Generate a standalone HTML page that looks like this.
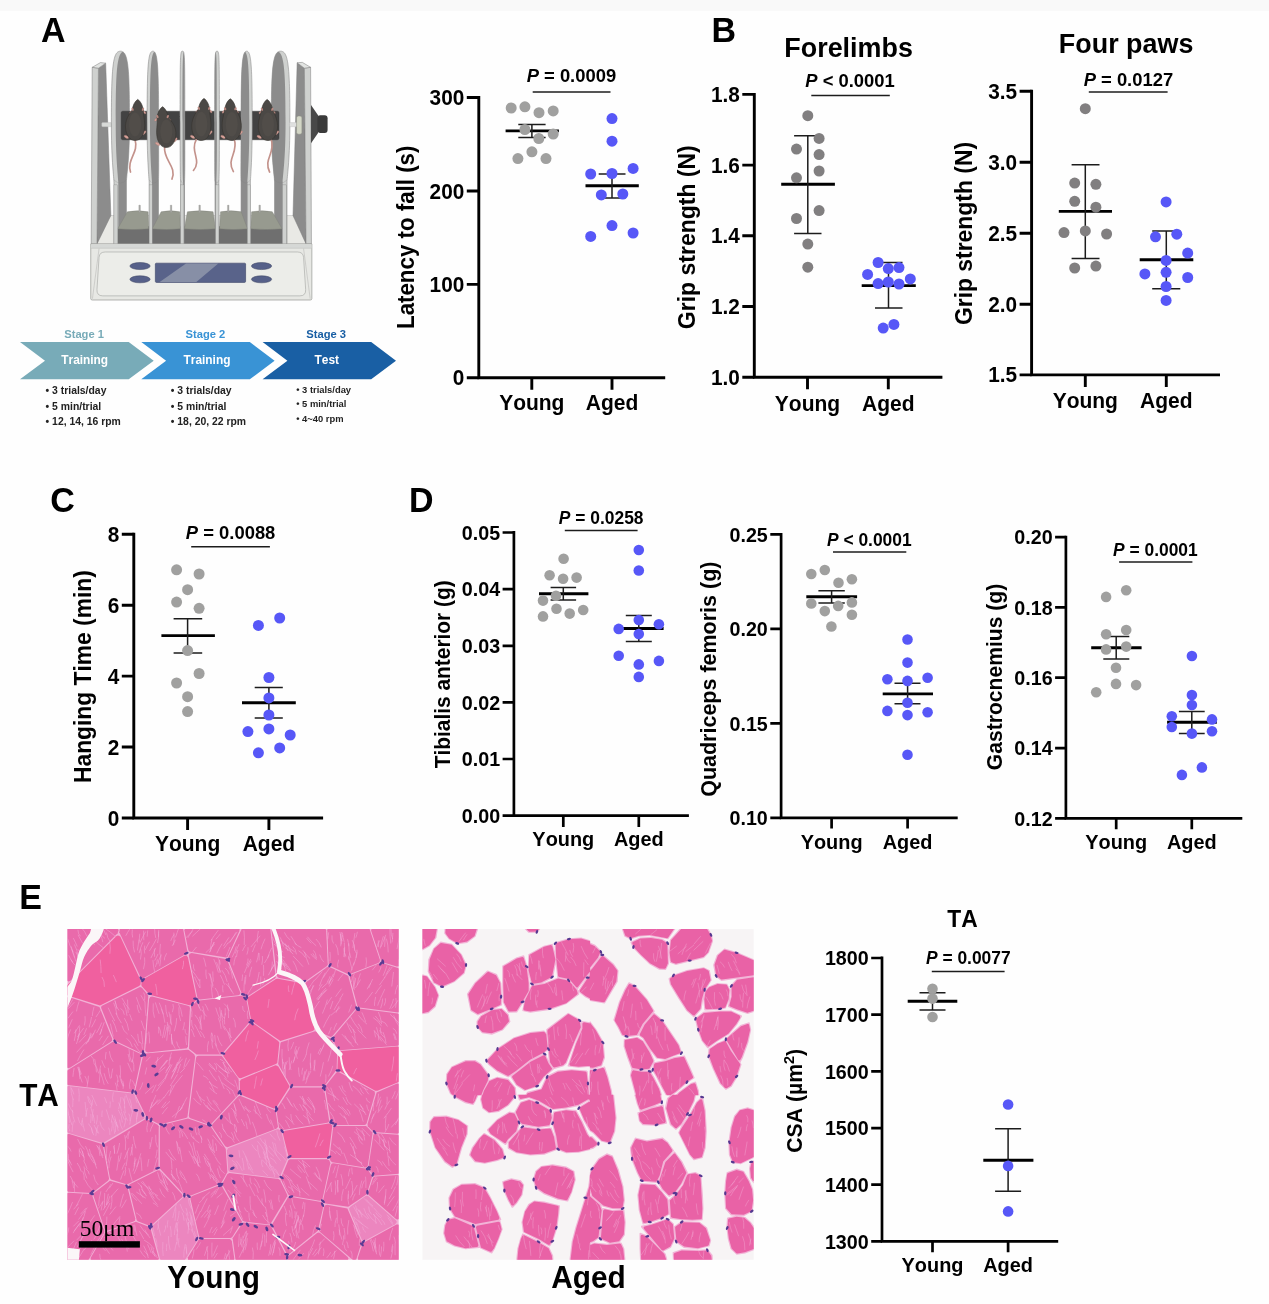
<!DOCTYPE html>
<html lang="en"><head><meta charset="utf-8"><title>Figure</title>
<style>html,body{margin:0;padding:0;background:#fefefe}body{width:1269px;height:1304px;overflow:hidden}svg{display:block}</style>
</head><body>
<svg width="1269" height="1304" viewBox="0 0 1269 1304" font-family="Liberation Sans, sans-serif" font-weight="700" fill="#000" style="font-kerning:none">
<rect width="1269" height="1304" fill="#fefefe"/><rect width="1269" height="11" fill="#f9f9f9"/>
<text transform="translate(41.0 41.9) scale(1 1.04)" font-size="34">A</text><text transform="translate(711.5 41.9) scale(1 1.04)" font-size="34">B</text><text transform="translate(50.3 512.3) scale(1 1.04)" font-size="34">C</text><text transform="translate(409.0 512.0) scale(1 1.04)" font-size="34">D</text><text transform="translate(19.3 908.5) scale(1 1.04)" font-size="34">E</text>
<g transform="translate(80 40) scale(0.20701)">
<path d="M149 848H1029L1116 985H54Z" fill="#e9e9e5" stroke="#a9aaa8" stroke-width="2"/>
<path d="M89 136L124 112L149 848L82 985Z" fill="#8c8c8c" stroke="#7e7e7e" stroke-width="2.5" stroke-linejoin="round"/>
<path d="M59 132L89 136L82 985H54Z" fill="#cfd1cf" stroke="#7e7e7e" stroke-width="2.5" stroke-linejoin="round"/>
<path d="M59 132L99 109L124 112L89 136Z" fill="#e2e4e2" stroke="#7e7e7e" stroke-width="2.5" stroke-linejoin="round"/>
<path d="M1084 136L1049 110L1029 848L1092 985Z" fill="#8c8c8c" stroke="#7e7e7e" stroke-width="2.5" stroke-linejoin="round"/>
<path d="M1114 132L1084 136L1092 985H1118Z" fill="#cfd1cf" stroke="#7e7e7e" stroke-width="2.5" stroke-linejoin="round"/>
<path d="M1114 132L1074 108L1049 110L1084 136Z" fill="#e2e4e2" stroke="#7e7e7e" stroke-width="2.5" stroke-linejoin="round"/>
<path d="M1116 314L1150 364V449L1116 499Z" fill="#484848"/>
<rect x="1147" y="364" width="49" height="85" rx="14" fill="#3a3a3a"/>
<rect x="105" y="399" width="55" height="20" rx="4" fill="#d9dbd9" stroke="#b5b5b5" stroke-width="1.5"/>
<rect x="170" y="900" width="820" height="86" fill="#6f6f6f"/>
<clipPath id="dc195"><path d="M151.5 399C151.5 116 160.3 54 195.5 54C230.7 54 239.5 116 239.5 399C239.5 572 226.0 646 224.0 686V985H164.0V686C162.0 646 151.5 572 151.5 399Z"/></clipPath><path d="M151.5 399C151.5 116 160.3 54 195.5 54C230.7 54 239.5 116 239.5 399C239.5 572 226.0 646 224.0 686V985H164.0V686C162.0 646 151.5 572 151.5 399Z" fill="#cfd1cf" stroke="#7e7e7e" stroke-width="2.5" stroke-linejoin="round"/><g clip-path="url(#dc195)"><path d="M172.5 399C172.5 116 181.3 54 216.5 54C251.7 54 260.5 116 260.5 399C260.5 572 247.0 646 245.0 686V985H185.0V686C183.0 646 172.5 572 172.5 399Z" fill="#8c8c8c"/></g><path d="M164.0 676Q194.0 706 224.0 676" fill="none" stroke="#7e7e7e" stroke-width="2" opacity=".6"/>
<clipPath id="dc969"><path d="M924.0 399C924.0 116 933.0 54 969.0 54C1005.0 54 1014.0 116 1014.0 399C1014.0 572 1002.0 646 1000.0 686V985H940.0V686C938.0 646 924.0 572 924.0 399Z"/></clipPath><path d="M924.0 399C924.0 116 933.0 54 969.0 54C1005.0 54 1014.0 116 1014.0 399C1014.0 572 1002.0 646 1000.0 686V985H940.0V686C938.0 646 924.0 572 924.0 399Z" fill="#cfd1cf" stroke="#7e7e7e" stroke-width="2.5" stroke-linejoin="round"/><g clip-path="url(#dc969)"><path d="M903.0 399C903.0 116 912.0 54 948.0 54C984.0 54 993.0 116 993.0 399C993.0 572 981.0 646 979.0 686V985H919.0V686C917.0 646 903.0 572 903.0 399Z" fill="#8c8c8c"/></g><path d="M940.0 676Q970.0 706 1000.0 676" fill="none" stroke="#7e7e7e" stroke-width="2" opacity=".6"/>
<rect x="199" y="344" width="762" height="138" rx="8" fill="#424242" stroke="#2e2e2e" stroke-width="2"/>
<clipPath id="dc352"><path d="M324.0 399C324.0 116 329.6 54 352.0 54C374.4 54 380.0 116 380.0 399C380.0 572 381.0 646 379.0 686V985H334.0V686C332.0 646 324.0 572 324.0 399Z"/></clipPath><path d="M324.0 399C324.0 116 329.6 54 352.0 54C374.4 54 380.0 116 380.0 399C380.0 572 381.0 646 379.0 686V985H334.0V686C332.0 646 324.0 572 324.0 399Z" fill="#cfd1cf" stroke="#7e7e7e" stroke-width="2.5" stroke-linejoin="round"/><g clip-path="url(#dc352)"><path d="M338.0 399C338.0 116 343.6 54 366.0 54C388.4 54 394.0 116 394.0 399C394.0 572 395.0 646 393.0 686V985H348.0V686C346.0 646 338.0 572 338.0 399Z" fill="#8c8c8c"/></g><path d="M334.0 676Q356.5 706 379.0 676" fill="none" stroke="#7e7e7e" stroke-width="2" opacity=".6"/>
<clipPath id="dc495"><path d="M483.5 399C483.5 61 484.1 54 495.0 54C505.9 54 506.5 61 506.5 399C506.5 572 507.0 646 505.0 686V985H486.0V686C484.0 646 483.5 572 483.5 399Z"/></clipPath><path d="M483.5 399C483.5 61 484.1 54 495.0 54C505.9 54 506.5 61 506.5 399C506.5 572 507.0 646 505.0 686V985H486.0V686C484.0 646 483.5 572 483.5 399Z" fill="#cfd1cf" stroke="#7e7e7e" stroke-width="2.5" stroke-linejoin="round"/><g clip-path="url(#dc495)"><path d="M495.5 399C495.5 61 496.1 54 507.0 54C517.9 54 518.5 61 518.5 399C518.5 572 519.0 646 517.0 686V985H498.0V686C496.0 646 495.5 572 495.5 399Z" fill="#8c8c8c"/></g><path d="M486.0 676Q495.5 706 505.0 676" fill="none" stroke="#7e7e7e" stroke-width="2" opacity=".6"/>
<clipPath id="dc662"><path d="M650.5 399C650.5 61 651.1 54 662.0 54C672.9 54 673.5 61 673.5 399C673.5 572 673.0 646 671.0 686V985H652.0V686C650.0 646 650.5 572 650.5 399Z"/></clipPath><path d="M650.5 399C650.5 61 651.1 54 662.0 54C672.9 54 673.5 61 673.5 399C673.5 572 673.0 646 671.0 686V985H652.0V686C650.0 646 650.5 572 650.5 399Z" fill="#cfd1cf" stroke="#7e7e7e" stroke-width="2.5" stroke-linejoin="round"/><g clip-path="url(#dc662)"><path d="M638.5 399C638.5 61 639.1 54 650.0 54C660.9 54 661.5 61 661.5 399C661.5 572 661.0 646 659.0 686V985H640.0V686C638.0 646 638.5 572 638.5 399Z" fill="#8c8c8c"/></g><path d="M652.0 676Q661.5 706 671.0 676" fill="none" stroke="#7e7e7e" stroke-width="2" opacity=".6"/>
<clipPath id="dc805"><path d="M778.0 399C778.0 116 783.4 54 805.0 54C826.6 54 832.0 116 832.0 399C832.0 572 825.0 646 823.0 686V985H778.0V686C776.0 646 778.0 572 778.0 399Z"/></clipPath><path d="M778.0 399C778.0 116 783.4 54 805.0 54C826.6 54 832.0 116 832.0 399C832.0 572 825.0 646 823.0 686V985H778.0V686C776.0 646 778.0 572 778.0 399Z" fill="#cfd1cf" stroke="#7e7e7e" stroke-width="2.5" stroke-linejoin="round"/><g clip-path="url(#dc805)"><path d="M764.0 399C764.0 116 769.4 54 791.0 54C812.6 54 818.0 116 818.0 399C818.0 572 811.0 646 809.0 686V985H764.0V686C762.0 646 764.0 572 764.0 399Z" fill="#8c8c8c"/></g><path d="M778.0 676Q800.5 706 823.0 676" fill="none" stroke="#7e7e7e" stroke-width="2" opacity=".6"/>
<path d="M182 912H332V986H182Z" fill="#6f6f6f"/>
<path d="M229 830Q279.0 820 329 830L332 912Q257.0 920 182 912Z" fill="#979a8f" stroke="#7d8078" stroke-width="2"/>
<path d="M349 912H485V986H349Z" fill="#6f6f6f"/>
<path d="M392 830Q437.0 820 482 830L485 912Q417.0 920 349 912Z" fill="#979a8f" stroke="#7d8078" stroke-width="2"/>
<path d="M504 912H654V986H504Z" fill="#6f6f6f"/>
<path d="M519 830Q581.0 820 643 830L654 912Q579.0 920 504 912Z" fill="#979a8f" stroke="#7d8078" stroke-width="2"/>
<path d="M674 912H809V986H674Z" fill="#6f6f6f"/>
<path d="M679 830Q729.0 820 779 830L809 912Q741.5 920 674 912Z" fill="#979a8f" stroke="#7d8078" stroke-width="2"/>
<path d="M824 912H976V986H824Z" fill="#6f6f6f"/>
<path d="M829 830Q879.0 820 929 830L976 912Q900.0 920 824 912Z" fill="#979a8f" stroke="#7d8078" stroke-width="2"/>
<rect x="284" y="797" width="8" height="36" rx="3" fill="#a9a9a7" stroke="#8a8a88" stroke-width="1"/>
<rect x="436" y="797" width="8" height="36" rx="3" fill="#a9a9a7" stroke="#8a8a88" stroke-width="1"/>
<rect x="574" y="797" width="8" height="36" rx="3" fill="#a9a9a7" stroke="#8a8a88" stroke-width="1"/>
<rect x="712" y="797" width="8" height="36" rx="3" fill="#a9a9a7" stroke="#8a8a88" stroke-width="1"/>
<rect x="864" y="797" width="8" height="36" rx="3" fill="#a9a9a7" stroke="#8a8a88" stroke-width="1"/>
<rect x="164" y="700" width="18" height="286" fill="#cfd1cf" stroke="#7e7e7e" stroke-width="1.5"/>
<rect x="334" y="700" width="15" height="286" fill="#cfd1cf" stroke="#7e7e7e" stroke-width="1.5"/>
<rect x="486" y="700" width="16" height="286" fill="#cfd1cf" stroke="#7e7e7e" stroke-width="1.5"/>
<rect x="655" y="700" width="16" height="286" fill="#cfd1cf" stroke="#7e7e7e" stroke-width="1.5"/>
<rect x="809" y="700" width="15" height="286" fill="#cfd1cf" stroke="#7e7e7e" stroke-width="1.5"/>
<rect x="979" y="700" width="17" height="286" fill="#cfd1cf" stroke="#7e7e7e" stroke-width="1.5"/>
<rect x="1012" y="399" width="40" height="20" rx="4" fill="#dfe0df" stroke="#b5b5b5" stroke-width="1.5"/>
<rect x="1046" y="367" width="26" height="88" rx="9" fill="#d3d6c6" stroke="#8d8f84" stroke-width="2.5"/>
<path d="M266 482C285 545 225 575 244 638" fill="none" stroke="#c3928b" stroke-width="8" stroke-linecap="round"/><g fill="#d7a29a" stroke="#b07a72" stroke-width="1.5"><ellipse cx="248" cy="349" rx="10" ry="5" transform="rotate(-40 248 349)"/><ellipse cx="310" cy="349" rx="10" ry="5" transform="rotate(40 310 349)"/><ellipse cx="224" cy="468" rx="12" ry="6" transform="rotate(25 224 468)"/><ellipse cx="309" cy="448" rx="12" ry="6" transform="rotate(-45 309 448)"/></g><path d="M279 287C293 295 303 317 306 339C306 372 318 402 310 440C300 476 282 486 266 485C250 486 232 476 222 440C214 402 226 372 252 339C255 317 265 295 279 287Z" fill="#4b4845" stroke="#38342f" stroke-width="3"/><ellipse cx="266" cy="408" rx="29" ry="58" fill="#514d49"/><g fill="#b98880"><ellipse cx="254" cy="335" rx="5" ry="8" transform="rotate(-25 254 335)"/><ellipse cx="304" cy="335" rx="5" ry="8" transform="rotate(25 304 335)"/></g>
<path d="M409 514C400 580 470 610 444 672" fill="none" stroke="#c3928b" stroke-width="8" stroke-linecap="round"/><g fill="#d7a29a" stroke="#b07a72" stroke-width="1.5"><ellipse cx="368" cy="384" rx="10" ry="5" transform="rotate(-40 368 384)"/><ellipse cx="430" cy="384" rx="10" ry="5" transform="rotate(40 430 384)"/><ellipse cx="375" cy="502" rx="12" ry="6" transform="rotate(25 375 502)"/><ellipse cx="460" cy="482" rx="12" ry="6" transform="rotate(-45 460 482)"/></g><path d="M399 322C413 330 423 352 426 374C457 407 469 436 461 474C451 510 433 520 417 519C401 520 383 510 373 474C365 436 377 407 372 374C375 352 385 330 399 322Z" fill="#4b4845" stroke="#38342f" stroke-width="3"/><ellipse cx="417" cy="442" rx="29" ry="58" fill="#514d49"/><g fill="#b98880"><ellipse cx="374" cy="370" rx="5" ry="8" transform="rotate(-25 374 370)"/><ellipse cx="424" cy="370" rx="5" ry="8" transform="rotate(25 424 370)"/></g>
<path d="M562 480C530 540 590 580 548 630" fill="none" stroke="#c3928b" stroke-width="8" stroke-linecap="round"/><g fill="#d7a29a" stroke="#b07a72" stroke-width="1.5"><ellipse cx="568" cy="344" rx="10" ry="5" transform="rotate(-40 568 344)"/><ellipse cx="630" cy="344" rx="10" ry="5" transform="rotate(40 630 344)"/><ellipse cx="544" cy="468" rx="12" ry="6" transform="rotate(25 544 468)"/><ellipse cx="629" cy="448" rx="12" ry="6" transform="rotate(-45 629 448)"/></g><path d="M599 282C613 290 623 312 626 334C626 367 638 402 630 440C620 476 602 486 586 485C570 486 552 476 542 440C534 402 546 367 572 334C575 312 585 290 599 282Z" fill="#4b4845" stroke="#38342f" stroke-width="3"/><ellipse cx="586" cy="406" rx="29" ry="60" fill="#514d49"/><g fill="#b98880"><ellipse cx="574" cy="330" rx="5" ry="8" transform="rotate(-25 574 330)"/><ellipse cx="624" cy="330" rx="5" ry="8" transform="rotate(25 624 330)"/></g>
<path d="M746 482C765 545 705 575 741 636" fill="none" stroke="#c3928b" stroke-width="8" stroke-linecap="round"/><g fill="#d7a29a" stroke="#b07a72" stroke-width="1.5"><ellipse cx="695" cy="346" rx="10" ry="5" transform="rotate(-40 695 346)"/><ellipse cx="757" cy="346" rx="10" ry="5" transform="rotate(40 757 346)"/><ellipse cx="691" cy="468" rx="12" ry="6" transform="rotate(25 691 468)"/><ellipse cx="776" cy="448" rx="12" ry="6" transform="rotate(-45 776 448)"/></g><path d="M726 284C740 292 750 314 753 336C773 369 785 402 777 440C767 476 749 486 733 485C717 486 699 476 689 440C681 402 693 369 699 336C702 314 712 292 726 284Z" fill="#4b4845" stroke="#38342f" stroke-width="3"/><ellipse cx="733" cy="407" rx="29" ry="59" fill="#514d49"/><g fill="#b98880"><ellipse cx="701" cy="332" rx="5" ry="8" transform="rotate(-25 701 332)"/><ellipse cx="751" cy="332" rx="5" ry="8" transform="rotate(25 751 332)"/></g>
<path d="M924 482C945 545 885 575 916 638" fill="none" stroke="#c3928b" stroke-width="8" stroke-linecap="round"/><g fill="#d7a29a" stroke="#b07a72" stroke-width="1.5"><ellipse cx="873" cy="349" rx="10" ry="5" transform="rotate(-40 873 349)"/><ellipse cx="935" cy="349" rx="10" ry="5" transform="rotate(40 935 349)"/><ellipse cx="866" cy="468" rx="12" ry="6" transform="rotate(25 866 468)"/><ellipse cx="951" cy="448" rx="12" ry="6" transform="rotate(-45 951 448)"/></g><path d="M904 287C918 295 928 317 931 339C948 372 960 402 952 440C942 476 924 486 908 485C892 486 874 476 864 440C856 402 868 372 877 339C880 317 890 295 904 287Z" fill="#4b4845" stroke="#38342f" stroke-width="3"/><ellipse cx="908" cy="408" rx="29" ry="58" fill="#514d49"/><g fill="#b98880"><ellipse cx="879" cy="335" rx="5" ry="8" transform="rotate(-25 879 335)"/><ellipse cx="929" cy="335" rx="5" ry="8" transform="rotate(25 929 335)"/></g>
<path d="M52 985H1120V1250Q1120 1256 1112 1256H60Q52 1256 52 1250Z" fill="#e7e8e4" stroke="#a4a5a2" stroke-width="4"/>
<path d="M54 987H1118V1006H54Z" fill="#d6d8d6"/>
<path d="M54 1006H1118" stroke="#b3b4b1" stroke-width="2"/>
<path d="M92 1008L60 1250M1080 1008L1112 1250" stroke="#b3b4b1" stroke-width="2.5" fill="none"/>
<path d="M122 1024H1050Q1078 1024 1080 1050L1090 1205Q1092 1236 1062 1236H110Q80 1236 82 1205L92 1050Q94 1024 122 1024Z" fill="#ecede9" stroke="#a4a5a2" stroke-width="3"/>
<rect x="364" y="1078" width="436" height="93" rx="5" fill="#59638a" stroke="#3e4668" stroke-width="3"/>
<path d="M512 1080H668L562 1169H385Z" fill="#878fa6"/>
<ellipse cx="290" cy="1092" rx="49" ry="17" fill="#566089" stroke="#39415f" stroke-width="2.5"/>
<ellipse cx="290" cy="1156" rx="49" ry="17" fill="#566089" stroke="#39415f" stroke-width="2.5"/>
<ellipse cx="877" cy="1092" rx="49" ry="17" fill="#566089" stroke="#39415f" stroke-width="2.5"/>
<ellipse cx="877" cy="1156" rx="49" ry="17" fill="#566089" stroke="#39415f" stroke-width="2.5"/>
</g>
<path d="M20 342.1H128.7L153.7 360.7L128.7 379.3H20L45 360.7Z" fill="#78abb8"/>
<path d="M141.3 342.1H249.8L274.6 360.7L249.8 379.3H141.3L166.1 360.7Z" fill="#3993d5"/>
<path d="M262.6 342.1H371.2L396 360.7L371.2 379.3H262.6L287.4 360.7Z" fill="#195fa4"/>
<g font-size="11.2" text-anchor="middle"><text x="84.1" y="337.5" fill="#78abb8">Stage 1</text><text x="205.4" y="337.5" fill="#3993d5">Stage 2</text><text x="326.2" y="337.5" fill="#195fa4">Stage 3</text></g>
<g font-size="11.9" text-anchor="middle" fill="#fff"><text x="84.7" y="364.2">Training</text><text x="207" y="364.2">Training</text><text x="326.8" y="364.2">Test</text></g>
<g font-size="10.4" fill="#222">
<text x="45.6" y="393.8">• 3 trials/day</text>
<text x="45.6" y="409.6">• 5 min/trial</text>
<text x="45.6" y="425.3">• 12, 14, 16 rpm</text>
<text x="170.8" y="393.8">• 3 trials/day</text>
<text x="170.8" y="409.6">• 5 min/trial</text>
<text x="170.8" y="425.3">• 18, 20, 22 rpm</text>
</g><g font-size="9.4" fill="#222">
<text x="296.2" y="393.2">• 3 trials/day</text>
<text x="296.2" y="407.4">• 5 min/trial</text>
<text x="296.2" y="421.6">• 4~40 rpm</text>
</g>
<path d="M478.8 96.0V377.7H665.2" fill="none" stroke="#000" stroke-width="2.9" stroke-linecap="butt" stroke-linejoin="miter"/>
<path d="M466.8 97.5H478.8M466.8 191.0H478.8M466.8 284.4H478.8M466.8 377.7H478.8M531.8 377.7V389.7M612.0 377.7V389.7" stroke="#000" stroke-width="2.9" fill="none"/>
<text transform="translate(464.3 105.0) scale(1 1.04)" font-size="20.8" text-anchor="end">300</text>
<text transform="translate(464.3 198.5) scale(1 1.04)" font-size="20.8" text-anchor="end">200</text>
<text transform="translate(464.3 291.9) scale(1 1.04)" font-size="20.8" text-anchor="end">100</text>
<text transform="translate(464.3 385.2) scale(1 1.04)" font-size="20.8" text-anchor="end">0</text>
<text transform="translate(531.8 410.2) scale(1 1.04)" font-size="21.0" text-anchor="middle">Young</text>
<text transform="translate(612.0 410.2) scale(1 1.04)" font-size="21.0" text-anchor="middle">Aged</text>
<text transform="translate(413.7 237.3) rotate(-90) scale(1 1.04)" font-size="22.3" text-anchor="middle">Latency to fall (s)</text>
<text transform="translate(571.4 81.8) scale(1 1.04)" font-size="18.4" text-anchor="middle"><tspan font-style="italic">P</tspan> = 0.0009</text>
<path d="M532.7 92.0H610.5" stroke="#1c1c1c" stroke-width="1.5"/>
<path d="M505.6 130.9H558.9" stroke="#000" stroke-width="2.9"/><path d="M518.3 124.4H545.6M518.3 137.5H545.6M531.9 124.4V137.5" stroke="#1c1c1c" stroke-width="1.5" fill="none"/><g fill="#a0a09f"><circle cx="511.2" cy="108.0" r="5.5"/><circle cx="524.9" cy="106.8" r="5.5"/><circle cx="539.0" cy="112.7" r="5.5"/><circle cx="553.2" cy="110.9" r="5.5"/><circle cx="524.9" cy="129.5" r="5.5"/><circle cx="553.2" cy="134.0" r="5.5"/><circle cx="538.8" cy="138.5" r="5.5"/><circle cx="531.9" cy="151.8" r="5.5"/><circle cx="517.9" cy="158.6" r="5.5"/><circle cx="546.0" cy="158.6" r="5.5"/></g>
<path d="M585.5 185.8H638.8" stroke="#000" stroke-width="2.9"/><path d="M598.7 174.0H625.5M598.7 197.9H625.5M612.0 174.0V197.9" stroke="#1c1c1c" stroke-width="1.5" fill="none"/><g fill="#5757f7"><circle cx="612.0" cy="118.6" r="5.5"/><circle cx="612.0" cy="141.2" r="5.5"/><circle cx="633.1" cy="168.4" r="5.5"/><circle cx="590.7" cy="174.0" r="5.5"/><circle cx="612.0" cy="173.5" r="5.5"/><circle cx="601.3" cy="194.9" r="5.5"/><circle cx="622.8" cy="194.0" r="5.5"/><circle cx="612.0" cy="225.6" r="5.5"/><circle cx="590.7" cy="236.4" r="5.5"/><circle cx="633.1" cy="233.0" r="5.5"/></g>
<path d="M754.3 93.0V377.2H942.4" fill="none" stroke="#000" stroke-width="2.9" stroke-linecap="butt" stroke-linejoin="miter"/>
<path d="M742.3 94.4H754.3M742.3 165.1H754.3M742.3 235.8H754.3M742.3 306.5H754.3M742.3 377.2H754.3M807.5 377.2V389.2M888.3 377.2V389.2" stroke="#000" stroke-width="2.9" fill="none"/>
<text transform="translate(739.8 101.9) scale(1 1.04)" font-size="20.8" text-anchor="end">1.8</text>
<text transform="translate(739.8 172.6) scale(1 1.04)" font-size="20.8" text-anchor="end">1.6</text>
<text transform="translate(739.8 243.3) scale(1 1.04)" font-size="20.8" text-anchor="end">1.4</text>
<text transform="translate(739.8 314.0) scale(1 1.04)" font-size="20.8" text-anchor="end">1.2</text>
<text transform="translate(739.8 384.7) scale(1 1.04)" font-size="20.8" text-anchor="end">1.0</text>
<text transform="translate(807.5 411.0) scale(1 1.04)" font-size="21.0" text-anchor="middle">Young</text>
<text transform="translate(888.3 411.0) scale(1 1.04)" font-size="21.0" text-anchor="middle">Aged</text>
<text transform="translate(694.7 237.2) rotate(-90) scale(1 1.04)" font-size="23.0" text-anchor="middle">Grip strength (N)</text>
<text transform="translate(848.6 57.3) scale(1 1.04)" font-size="26.9" text-anchor="middle">Forelimbs</text>
<text transform="translate(850.0 86.6) scale(1 1.04)" font-size="18.4" text-anchor="middle"><tspan font-style="italic">P</tspan> &lt; 0.0001</text>
<path d="M811.3 95.4H889.8" stroke="#1c1c1c" stroke-width="1.5"/>
<path d="M781.2 184.3H834.9" stroke="#000" stroke-width="2.9"/><path d="M794.1 135.8H821.5M794.1 233.4H821.5M807.8 135.8V233.4" stroke="#1c1c1c" stroke-width="1.5" fill="none"/><g fill="#817f80"><circle cx="807.8" cy="115.7" r="5.5"/><circle cx="819.1" cy="138.4" r="5.5"/><circle cx="796.5" cy="149.1" r="5.5"/><circle cx="819.1" cy="154.6" r="5.5"/><circle cx="819.1" cy="171.0" r="5.5"/><circle cx="796.5" cy="177.8" r="5.5"/><circle cx="819.1" cy="210.6" r="5.5"/><circle cx="796.5" cy="218.5" r="5.5"/><circle cx="807.8" cy="244.1" r="5.5"/><circle cx="807.8" cy="267.2" r="5.5"/></g>
<path d="M861.7 285.6H915.8" stroke="#000" stroke-width="2.9"/><path d="M875.0 262.5H902.5M875.0 308.0H902.5M888.5 262.5V308.0" stroke="#1c1c1c" stroke-width="1.5" fill="none"/><g fill="#5757f7"><circle cx="878.1" cy="262.5" r="5.5"/><circle cx="888.3" cy="268.6" r="5.5"/><circle cx="899.0" cy="267.6" r="5.5"/><circle cx="867.6" cy="274.4" r="5.5"/><circle cx="910.3" cy="278.9" r="5.5"/><circle cx="878.1" cy="283.6" r="5.5"/><circle cx="888.3" cy="282.0" r="5.5"/><circle cx="899.0" cy="284.0" r="5.5"/><circle cx="883.2" cy="328.1" r="5.5"/><circle cx="893.9" cy="324.4" r="5.5"/></g>
<path d="M1031.6 89.8V374.9H1220" fill="none" stroke="#000" stroke-width="2.9" stroke-linecap="butt" stroke-linejoin="miter"/>
<path d="M1019.6 91.3H1031.6M1019.6 162.3H1031.6M1019.6 233.3H1031.6M1019.6 304.2H1031.6M1019.6 374.9H1031.6M1085.3 374.9V386.9M1166.3 374.9V386.9" stroke="#000" stroke-width="2.9" fill="none"/>
<text transform="translate(1017.1 98.8) scale(1 1.04)" font-size="20.8" text-anchor="end">3.5</text>
<text transform="translate(1017.1 169.8) scale(1 1.04)" font-size="20.8" text-anchor="end">3.0</text>
<text transform="translate(1017.1 240.8) scale(1 1.04)" font-size="20.8" text-anchor="end">2.5</text>
<text transform="translate(1017.1 311.7) scale(1 1.04)" font-size="20.8" text-anchor="end">2.0</text>
<text transform="translate(1017.1 382.4) scale(1 1.04)" font-size="20.8" text-anchor="end">1.5</text>
<text transform="translate(1085.3 408.0) scale(1 1.04)" font-size="21.0" text-anchor="middle">Young</text>
<text transform="translate(1166.3 408.0) scale(1 1.04)" font-size="21.0" text-anchor="middle">Aged</text>
<text transform="translate(972.0 233.5) rotate(-90) scale(1 1.04)" font-size="22.9" text-anchor="middle">Grip strength (N)</text>
<text transform="translate(1126.1 53.1) scale(1 1.04)" font-size="26.9" text-anchor="middle">Four paws</text>
<text transform="translate(1128.4 85.5) scale(1 1.04)" font-size="18.4" text-anchor="middle"><tspan font-style="italic">P</tspan> = 0.0127</text>
<path d="M1088.8 92.1H1167.6" stroke="#1c1c1c" stroke-width="1.5"/>
<path d="M1058.8 211.4H1112.0" stroke="#000" stroke-width="2.9"/><path d="M1071.6 164.7H1099.5M1071.6 258.6H1099.5M1085.3 164.7V258.6" stroke="#1c1c1c" stroke-width="1.5" fill="none"/><g fill="#817f80"><circle cx="1085.3" cy="108.7" r="5.5"/><circle cx="1074.7" cy="183.1" r="5.5"/><circle cx="1095.9" cy="184.3" r="5.5"/><circle cx="1074.7" cy="201.3" r="5.5"/><circle cx="1095.9" cy="207.2" r="5.5"/><circle cx="1064.0" cy="232.6" r="5.5"/><circle cx="1085.3" cy="230.9" r="5.5"/><circle cx="1106.6" cy="234.0" r="5.5"/><circle cx="1074.7" cy="268.0" r="5.5"/><circle cx="1095.9" cy="266.1" r="5.5"/></g>
<path d="M1139.7 259.7H1193.3" stroke="#000" stroke-width="2.9"/><path d="M1152.2 230.9H1180.3M1152.2 288.8H1180.3M1166.3 230.9V288.8" stroke="#1c1c1c" stroke-width="1.5" fill="none"/><g fill="#5757f7"><circle cx="1166.1" cy="201.9" r="5.5"/><circle cx="1155.5" cy="236.8" r="5.5"/><circle cx="1176.8" cy="234.2" r="5.5"/><circle cx="1187.7" cy="253.1" r="5.5"/><circle cx="1166.1" cy="260.4" r="5.5"/><circle cx="1144.9" cy="273.9" r="5.5"/><circle cx="1166.1" cy="272.3" r="5.5"/><circle cx="1187.7" cy="277.5" r="5.5"/><circle cx="1166.1" cy="286.5" r="5.5"/><circle cx="1166.1" cy="300.4" r="5.5"/></g>
<path d="M133.8 532.8V818.0H323.1" fill="none" stroke="#000" stroke-width="2.9" stroke-linecap="butt" stroke-linejoin="miter"/>
<path d="M121.8 534.3H133.8M121.8 605.2H133.8M121.8 676.1H133.8M121.8 747.0H133.8M121.8 818.0H133.8M187.6 818.0V830.0M268.9 818.0V830.0" stroke="#000" stroke-width="2.9" fill="none"/>
<text transform="translate(119.3 541.8) scale(1 1.04)" font-size="20.8" text-anchor="end">8</text>
<text transform="translate(119.3 612.7) scale(1 1.04)" font-size="20.8" text-anchor="end">6</text>
<text transform="translate(119.3 683.6) scale(1 1.04)" font-size="20.8" text-anchor="end">4</text>
<text transform="translate(119.3 754.5) scale(1 1.04)" font-size="20.8" text-anchor="end">2</text>
<text transform="translate(119.3 825.5) scale(1 1.04)" font-size="20.8" text-anchor="end">0</text>
<text transform="translate(187.6 851.3) scale(1 1.04)" font-size="21.0" text-anchor="middle">Young</text>
<text transform="translate(268.9 851.3) scale(1 1.04)" font-size="21.0" text-anchor="middle">Aged</text>
<text transform="translate(91.4 676.6) rotate(-90) scale(1 1.04)" font-size="22.8" text-anchor="middle">Hanging Time (min)</text>
<text transform="translate(230.6 538.6) scale(1 1.04)" font-size="18.4" text-anchor="middle"><tspan font-style="italic">P</tspan> = 0.0088</text>
<path d="M191.2 546.7H269.9" stroke="#1c1c1c" stroke-width="1.5"/>
<path d="M161.4 635.6H214.9" stroke="#000" stroke-width="2.9"/><path d="M173.6 618.8H202.2M173.6 653.0H202.2M187.6 618.8V653.0" stroke="#1c1c1c" stroke-width="1.5" fill="none"/><g fill="#a0a09f"><circle cx="176.6" cy="569.8" r="5.5"/><circle cx="199.1" cy="574.0" r="5.5"/><circle cx="187.6" cy="589.7" r="5.5"/><circle cx="176.6" cy="602.1" r="5.5"/><circle cx="199.1" cy="608.3" r="5.5"/><circle cx="187.6" cy="650.6" r="5.5"/><circle cx="199.1" cy="673.5" r="5.5"/><circle cx="176.6" cy="683.0" r="5.5"/><circle cx="187.6" cy="696.7" r="5.5"/><circle cx="187.6" cy="711.6" r="5.5"/></g>
<path d="M242.0 702.8H295.8" stroke="#000" stroke-width="2.9"/><path d="M254.7 687.5H282.8M254.7 718.1H282.8M268.9 687.5V718.1" stroke="#1c1c1c" stroke-width="1.5" fill="none"/><g fill="#5757f7"><circle cx="258.4" cy="625.4" r="5.5"/><circle cx="279.7" cy="618.0" r="5.5"/><circle cx="268.9" cy="677.5" r="5.5"/><circle cx="268.9" cy="697.9" r="5.5"/><circle cx="268.9" cy="715.0" r="5.5"/><circle cx="268.9" cy="728.9" r="5.5"/><circle cx="247.9" cy="731.6" r="5.5"/><circle cx="290.2" cy="735.0" r="5.5"/><circle cx="279.7" cy="747.9" r="5.5"/><circle cx="258.4" cy="752.8" r="5.5"/></g>
<path d="M513.9 531.1V815.6H688.9" fill="none" stroke="#000" stroke-width="2.7" stroke-linecap="butt" stroke-linejoin="miter"/>
<path d="M502.6 532.5H513.9M502.6 589.2H513.9M502.6 645.8H513.9M502.6 702.4H513.9M502.6 759.0H513.9M502.6 815.6H513.9M563.3 815.6V826.9M638.8 815.6V826.9" stroke="#000" stroke-width="2.7" fill="none"/>
<text transform="translate(500.1 539.7) scale(1 1.04)" font-size="19.7" text-anchor="end">0.05</text>
<text transform="translate(500.1 596.4) scale(1 1.04)" font-size="19.7" text-anchor="end">0.04</text>
<text transform="translate(500.1 653.0) scale(1 1.04)" font-size="19.7" text-anchor="end">0.03</text>
<text transform="translate(500.1 709.6) scale(1 1.04)" font-size="19.7" text-anchor="end">0.02</text>
<text transform="translate(500.1 766.2) scale(1 1.04)" font-size="19.7" text-anchor="end">0.01</text>
<text transform="translate(500.1 822.8) scale(1 1.04)" font-size="19.7" text-anchor="end">0.00</text>
<text transform="translate(563.3 846.0) scale(1 1.04)" font-size="19.9" text-anchor="middle">Young</text>
<text transform="translate(638.8 846.0) scale(1 1.04)" font-size="19.9" text-anchor="middle">Aged</text>
<text transform="translate(449.8 674.3) rotate(-90) scale(1 1.04)" font-size="20.9" text-anchor="middle">Tibialis anterior (g)</text>
<text transform="translate(601.2 524.2) scale(1 1.04)" font-size="17.4" text-anchor="middle"><tspan font-style="italic">P</tspan> = 0.0258</text>
<path d="M564.8 530.4H637.6" stroke="#1c1c1c" stroke-width="1.5"/>
<path d="M539.0 593.7H588.4" stroke="#000" stroke-width="2.9"/><path d="M550.6 587.6H576.1M550.6 600.1H576.1M563.3 587.6V600.1" stroke="#1c1c1c" stroke-width="1.5" fill="none"/><g fill="#a0a09f"><circle cx="563.6" cy="558.7" r="5.3"/><circle cx="549.6" cy="575.3" r="5.3"/><circle cx="563.1" cy="578.8" r="5.3"/><circle cx="576.6" cy="577.6" r="5.3"/><circle cx="556.0" cy="595.8" r="5.3"/><circle cx="543.0" cy="600.6" r="5.3"/><circle cx="556.5" cy="608.8" r="5.3"/><circle cx="569.7" cy="613.6" r="5.3"/><circle cx="583.2" cy="610.0" r="5.3"/><circle cx="543.0" cy="616.4" r="5.3"/></g>
<path d="M614.0 628.5H663.6" stroke="#000" stroke-width="2.9"/><path d="M625.8 615.5H651.8M625.8 641.5H651.8M638.8 615.5V641.5" stroke="#1c1c1c" stroke-width="1.5" fill="none"/><g fill="#5757f7"><circle cx="638.8" cy="550.0" r="5.3"/><circle cx="638.8" cy="570.5" r="5.3"/><circle cx="638.8" cy="620.0" r="5.3"/><circle cx="618.7" cy="628.9" r="5.3"/><circle cx="658.9" cy="624.2" r="5.3"/><circle cx="638.8" cy="634.1" r="5.3"/><circle cx="618.7" cy="655.7" r="5.3"/><circle cx="658.9" cy="660.9" r="5.3"/><circle cx="638.8" cy="664.4" r="5.3"/><circle cx="638.8" cy="676.9" r="5.3"/></g>
<path d="M781.1 532.9V817.8H957.7" fill="none" stroke="#000" stroke-width="2.7" stroke-linecap="butt" stroke-linejoin="miter"/>
<path d="M770.3 534.3H781.1M770.3 628.8H781.1M770.3 723.3H781.1M770.3 817.8H781.1M831.6 817.8V828.6M907.6 817.8V828.6" stroke="#000" stroke-width="2.7" fill="none"/>
<text transform="translate(767.8 541.5) scale(1 1.04)" font-size="19.7" text-anchor="end">0.25</text>
<text transform="translate(767.8 636.0) scale(1 1.04)" font-size="19.7" text-anchor="end">0.20</text>
<text transform="translate(767.8 730.5) scale(1 1.04)" font-size="19.7" text-anchor="end">0.15</text>
<text transform="translate(767.8 825.0) scale(1 1.04)" font-size="19.7" text-anchor="end">0.10</text>
<text transform="translate(831.6 848.9) scale(1 1.04)" font-size="19.9" text-anchor="middle">Young</text>
<text transform="translate(907.6 848.9) scale(1 1.04)" font-size="19.9" text-anchor="middle">Aged</text>
<text transform="translate(716.0 679.2) rotate(-90) scale(1 1.04)" font-size="21.5" text-anchor="middle">Quadriceps femoris (g)</text>
<text transform="translate(869.3 545.6) scale(1 1.04)" font-size="17.4" text-anchor="middle"><tspan font-style="italic">P</tspan> &lt; 0.0001</text>
<path d="M833.0 552.0H906.3" stroke="#1c1c1c" stroke-width="1.5"/>
<path d="M806.3 596.7H857.1" stroke="#000" stroke-width="2.9"/><path d="M818.4 590.8H844.8M818.4 603.1H844.8M831.6 590.8V603.1" stroke="#1c1c1c" stroke-width="1.5" fill="none"/><g fill="#a0a09f"><circle cx="811.3" cy="574.0" r="5.3"/><circle cx="824.8" cy="570.0" r="5.3"/><circle cx="838.5" cy="582.7" r="5.3"/><circle cx="851.9" cy="579.2" r="5.3"/><circle cx="811.3" cy="603.5" r="5.3"/><circle cx="851.9" cy="602.4" r="5.3"/><circle cx="838.2" cy="605.9" r="5.3"/><circle cx="824.8" cy="611.1" r="5.3"/><circle cx="851.9" cy="614.7" r="5.3"/><circle cx="831.4" cy="626.5" r="5.3"/></g>
<path d="M882.7 693.9H933.0" stroke="#000" stroke-width="2.9"/><path d="M894.5 683.2H920.5M894.5 703.8H920.5M907.6 683.2V703.8" stroke="#1c1c1c" stroke-width="1.5" fill="none"/><g fill="#5757f7"><circle cx="907.5" cy="639.5" r="5.3"/><circle cx="907.5" cy="662.6" r="5.3"/><circle cx="887.4" cy="679.2" r="5.3"/><circle cx="907.5" cy="680.9" r="5.3"/><circle cx="927.6" cy="677.8" r="5.3"/><circle cx="907.5" cy="702.8" r="5.3"/><circle cx="887.4" cy="710.9" r="5.3"/><circle cx="907.5" cy="715.1" r="5.3"/><circle cx="927.6" cy="712.3" r="5.3"/><circle cx="907.5" cy="754.8" r="5.3"/></g>
<path d="M1065.9 535.8V818.4H1242.3" fill="none" stroke="#000" stroke-width="2.7" stroke-linecap="butt" stroke-linejoin="miter"/>
<path d="M1055.1 537.1H1065.9M1055.1 607.4H1065.9M1055.1 677.7H1065.9M1055.1 748.1H1065.9M1055.1 818.4H1065.9M1116.2 818.4V829.2M1191.8 818.4V829.2" stroke="#000" stroke-width="2.7" fill="none"/>
<text transform="translate(1052.6 544.3) scale(1 1.04)" font-size="19.7" text-anchor="end">0.20</text>
<text transform="translate(1052.6 614.6) scale(1 1.04)" font-size="19.7" text-anchor="end">0.18</text>
<text transform="translate(1052.6 684.9) scale(1 1.04)" font-size="19.7" text-anchor="end">0.16</text>
<text transform="translate(1052.6 755.3) scale(1 1.04)" font-size="19.7" text-anchor="end">0.14</text>
<text transform="translate(1052.6 825.6) scale(1 1.04)" font-size="19.7" text-anchor="end">0.12</text>
<text transform="translate(1116.2 849.4) scale(1 1.04)" font-size="19.9" text-anchor="middle">Young</text>
<text transform="translate(1191.8 849.4) scale(1 1.04)" font-size="19.9" text-anchor="middle">Aged</text>
<text transform="translate(1002.2 677.0) rotate(-90) scale(1 1.04)" font-size="21.1" text-anchor="middle">Gastrocnemius (g)</text>
<text transform="translate(1155.4 555.6) scale(1 1.04)" font-size="17.4" text-anchor="middle"><tspan font-style="italic">P</tspan> = 0.0001</text>
<path d="M1119.1 561.9H1192.4" stroke="#1c1c1c" stroke-width="1.5"/>
<path d="M1091.2 647.8H1141.6" stroke="#000" stroke-width="2.9"/><path d="M1103.3 636.4H1129.3M1103.3 658.9H1129.3M1116.2 636.4V658.9" stroke="#1c1c1c" stroke-width="1.5" fill="none"/><g fill="#a0a09f"><circle cx="1106.1" cy="596.9" r="5.3"/><circle cx="1126.2" cy="590.3" r="5.3"/><circle cx="1106.1" cy="634.3" r="5.3"/><circle cx="1126.2" cy="630.0" r="5.3"/><circle cx="1126.2" cy="646.6" r="5.3"/><circle cx="1106.1" cy="649.4" r="5.3"/><circle cx="1116.0" cy="667.8" r="5.3"/><circle cx="1116.0" cy="683.9" r="5.3"/><circle cx="1136.1" cy="685.1" r="5.3"/><circle cx="1096.2" cy="692.2" r="5.3"/></g>
<path d="M1167.1 722.2H1216.8" stroke="#000" stroke-width="2.9"/><path d="M1178.9 711.6H1204.7M1178.9 733.6H1204.7M1191.8 711.6V733.6" stroke="#1c1c1c" stroke-width="1.5" fill="none"/><g fill="#5757f7"><circle cx="1191.9" cy="656.0" r="5.3"/><circle cx="1191.9" cy="695.0" r="5.3"/><circle cx="1191.9" cy="705.0" r="5.3"/><circle cx="1171.8" cy="716.3" r="5.3"/><circle cx="1212.0" cy="719.4" r="5.3"/><circle cx="1171.8" cy="727.0" r="5.3"/><circle cx="1212.0" cy="731.2" r="5.3"/><circle cx="1191.9" cy="733.6" r="5.3"/><circle cx="1201.9" cy="767.4" r="5.3"/><circle cx="1181.9" cy="774.9" r="5.3"/></g>
<path d="M882.0 956.6V1241.4H1058.2" fill="none" stroke="#000" stroke-width="2.7" stroke-linecap="butt" stroke-linejoin="miter"/>
<path d="M871.2 958.0H882.0M871.2 1014.7H882.0M871.2 1071.4H882.0M871.2 1128.1H882.0M871.2 1184.7H882.0M871.2 1241.4H882.0M932.5 1241.4V1252.2M1008.1 1241.4V1252.2" stroke="#000" stroke-width="2.7" fill="none"/>
<text transform="translate(868.7 965.2) scale(1 1.04)" font-size="19.7" text-anchor="end">1800</text>
<text transform="translate(868.7 1021.9) scale(1 1.04)" font-size="19.7" text-anchor="end">1700</text>
<text transform="translate(868.7 1078.6) scale(1 1.04)" font-size="19.7" text-anchor="end">1600</text>
<text transform="translate(868.7 1135.3) scale(1 1.04)" font-size="19.7" text-anchor="end">1500</text>
<text transform="translate(868.7 1191.9) scale(1 1.04)" font-size="19.7" text-anchor="end">1400</text>
<text transform="translate(868.7 1248.6) scale(1 1.04)" font-size="19.7" text-anchor="end">1300</text>
<text transform="translate(932.5 1271.9) scale(1 1.04)" font-size="19.9" text-anchor="middle">Young</text>
<text transform="translate(1008.1 1271.9) scale(1 1.04)" font-size="19.9" text-anchor="middle">Aged</text>
<text transform="translate(801.9 1100.8) rotate(-90) scale(1 1.04)" font-size="21.2" text-anchor="middle">CSA (µm<tspan dy="-7.5" font-size="14.5">2</tspan><tspan dy="7.5">)</tspan></text>
<text transform="translate(962.4 927.2) scale(1 1.04)" font-size="22.8" text-anchor="middle">TA</text>
<text transform="translate(968.3 963.8) scale(1 1.04)" font-size="17.4" text-anchor="middle"><tspan font-style="italic">P</tspan> = 0.0077</text>
<path d="M931.8 971.4H1004.6" stroke="#1c1c1c" stroke-width="1.5"/>
<path d="M907.7 1001.2H957.3" stroke="#000" stroke-width="2.9"/><path d="M919.5 992.7H945.5M919.5 1009.9H945.5M932.5 992.7V1009.9" stroke="#1c1c1c" stroke-width="1.5" fill="none"/><g fill="#a0a09f"><circle cx="932.5" cy="988.7" r="5.3"/><circle cx="932.5" cy="998.6" r="5.3"/><circle cx="932.5" cy="1017.0" r="5.3"/></g>
<path d="M983.3 1160.2H1033.4" stroke="#000" stroke-width="2.9"/><path d="M995.1 1128.8H1021.1M995.1 1191.3H1021.1M1008.1 1128.8V1191.3" stroke="#1c1c1c" stroke-width="1.5" fill="none"/><g fill="#5757f7"><circle cx="1008.1" cy="1104.5" r="5.3"/><circle cx="1008.1" cy="1165.9" r="5.3"/><circle cx="1008.1" cy="1211.4" r="5.3"/></g>
<clipPath id="cy"><rect x="27" y="33" width="1201" height="1199"/></clipPath>
<g transform="translate(60 920) scale(0.27581)" clip-path="url(#cy)">
<rect x="20" y="26" width="1215" height="1213" fill="#f2b0d6"/>
<path d="M293 220L219 61L214 57L209 56L204 59L24 239L22 244L22 267L24 271L28 274L145 310L287 239L292 234Z" fill="#f0609f"/>
<path d="M212 38L210 31L203 28L31 28L24 30L22 37L22 213L24 220L31 223L38 220L209 48Z" fill="#e96aab"/>
<path d="M215 44L291 206L297 211L304 210L458 122L462 116L447 35L445 31L441 28L224 28L217 33Z" fill="#e96aab"/>
<path d="M492 293L495 289L495 284L464 136L459 129L451 130L300 216L296 220L295 235L296 239L325 271L469 309L476 307Z" fill="#f0609f"/>
<path d="M477 120L470 122L467 130L498 280L501 286L508 288L646 273L652 270L654 265L653 261L605 142Z" fill="#e96aab"/>
<path d="M610 136L610 143L660 269L663 273L672 277L680 277L779 212L782 208L763 36L761 31L758 28L666 28L660 30Z" fill="#e96aab"/>
<path d="M465 108L468 113L473 115L603 136L609 131L650 41L651 34L647 29L642 28L457 28L453 32L451 38Z" fill="#e96aab"/>
<path d="M965 37L962 30L956 28L776 28L770 30L767 38L786 202L789 207L794 210L885 226L968 167L971 160Z" fill="#e96aab"/>
<path d="M1154 156L1159 151L1160 145L1123 34L1119 29L1114 28L978 28L970 32L969 37L974 159L978 166L1047 198Z" fill="#e96aab"/>
<path d="M1221 169L1229 168L1233 161L1233 37L1232 32L1224 28L1137 28L1132 29L1129 34L1128 39L1165 150L1170 153Z" fill="#e96aab"/>
<path d="M185 441L189 436L189 430L143 315L34 280L29 279L24 282L22 288L22 528L24 535L30 537L36 536Z" fill="#e96aab"/>
<path d="M292 482L300 481L305 475L320 276L318 271L297 246L290 243L154 310L150 314L149 318L196 436Z" fill="#e96aab"/>
<path d="M334 277L327 279L323 286L309 470L310 476L314 479L319 480L460 465L464 458L471 320L470 314L464 311Z" fill="#e96aab"/>
<path d="M658 275L498 293L478 310L475 315L468 467L495 488L586 488L689 368L690 362L675 285L671 281Z" fill="#e96aab"/>
<path d="M693 363L697 368L799 439L916 402L921 399L923 395L884 232L878 229L790 213L783 214L680 281L679 288Z" fill="#f0609f"/>
<path d="M1041 200L974 169L968 171L893 225L889 233L927 397L932 402L982 424L988 421L1073 321L1075 316L1045 203Z" fill="#e96aab"/>
<path d="M1168 156L1161 156L1056 198L1051 202L1051 209L1078 311L1081 316L1085 317L1227 335L1232 332L1233 326L1233 181L1228 175Z" fill="#e96aab"/>
<path d="M1084 321L1075 324L989 426L989 433L1007 470L1014 472L1225 456L1231 452L1233 446L1233 349L1230 342L1225 339Z" fill="#e96aab"/>
<path d="M1017 475L1011 478L1008 483L1006 539L1008 545L1143 619L1151 619L1228 587L1232 583L1233 468L1232 463L1228 460L1223 459Z" fill="#f0609f"/>
<path d="M259 625L266 624L269 619L296 495L296 490L291 485L198 441L190 442L26 546L22 551L22 590L24 595L28 598Z" fill="#e96aab"/>
<path d="M490 496L487 488L467 471L461 470L309 484L302 488L271 627L315 718L362 741L456 718L462 715Z" fill="#e96aab"/>
<path d="M648 582L647 576L587 493L581 492L502 492L496 494L493 500L467 709L469 716L473 719L540 742L548 740L647 634L648 629Z" fill="#e96aab"/>
<path d="M795 448L794 443L791 439L700 374L693 373L687 376L594 485L592 493L646 570L650 573L656 574L785 521L788 516Z" fill="#f0609f"/>
<path d="M792 532L787 528L781 527L656 578L652 585L652 626L653 631L657 634L774 683L783 682L832 605L831 600Z" fill="#f0609f"/>
<path d="M953 603L960 600L1003 543L1005 475L983 431L925 403L801 443L799 449L791 522L836 601L842 603Z" fill="#e96aab"/>
<path d="M152 808L159 807L306 720L307 711L270 633L263 629L32 602L26 603L22 611L22 762L23 767L28 771Z" fill="#ec86bf"/>
<path d="M786 685L785 692L794 752L797 756L805 762L969 735L974 733L976 728L958 614L956 610L951 607L838 607L834 611Z" fill="#e96aab"/>
<path d="M987 740L994 743L1103 743L1109 741L1112 737L1142 631L1141 622L1012 552L1006 551L1002 553L963 602L961 608L981 731Z" fill="#e96aab"/>
<path d="M1115 740L1116 748L1134 767L1138 769L1223 775L1231 772L1233 766L1233 603L1230 595L1226 593L1220 594L1148 625Z" fill="#e96aab"/>
<path d="M553 740L551 746L553 752L599 820L607 824L784 757L788 753L790 748L782 694L778 689L653 637L646 640Z" fill="#e96aab"/>
<path d="M113 990L119 988L174 945L178 939L155 816L149 811L34 776L27 776L23 780L22 785L22 980L30 985Z" fill="#e96aab"/>
<path d="M317 723L308 723L160 812L159 818L181 935L185 941L240 958L245 958L353 904L357 900L358 748L354 742Z" fill="#e96aab"/>
<path d="M369 743L364 746L362 752L362 901L450 996L454 999L470 1001L584 955L607 914L601 830L546 748L464 720Z" fill="#e96aab"/>
<path d="M797 761L793 759L787 759L609 828L605 836L610 906L612 911L618 914L789 936L796 934L826 864L803 768Z" fill="#ec86bf"/>
<path d="M816 764L810 768L808 775L828 856L832 862L837 863L965 863L970 862L973 859L987 749L986 744L981 739L974 738Z" fill="#f0609f"/>
<path d="M977 862L981 874L987 878L1105 897L1111 896L1116 890L1133 776L1132 770L1113 750L1109 747L999 747L994 748L990 755Z" fill="#e96aab"/>
<path d="M1146 773L1139 775L1136 780L1118 897L1119 903L1133 924L1139 927L1228 920L1232 917L1233 912L1232 783L1225 779Z" fill="#e96aab"/>
<path d="M836 867L831 868L828 871L800 938L828 996L834 1000L941 1018L949 1016L952 1010L980 882L979 878L976 871L968 867Z" fill="#e96aab"/>
<path d="M992 882L986 883L982 888L954 1016L955 1021L958 1026L963 1028L1045 1040L1112 994L1131 934L1131 928L1117 906L1112 902Z" fill="#e96aab"/>
<path d="M32 989L25 991L22 998L22 1231L25 1235L30 1237L97 1237L103 1233L160 1135L161 1128L116 996L110 993Z" fill="#e96aab"/>
<path d="M244 967L238 961L181 945L122 991L121 999L162 1121L167 1126L174 1126L267 1093L272 1089L273 1082Z" fill="#e96aab"/>
<path d="M364 910L360 907L353 908L253 958L248 964L278 1088L282 1092L324 1109L332 1107L442 1006L445 1002L442 993Z" fill="#e96aab"/>
<path d="M500 1158L502 1151L469 1011L466 1006L462 1004L454 1003L448 1005L334 1110L332 1114L363 1230L369 1237L451 1236Z" fill="#ec86bf"/>
<path d="M168 1132L163 1136L112 1224L111 1231L116 1236L349 1237L354 1236L357 1232L358 1226L328 1118L324 1113L275 1094Z" fill="#e96aab"/>
<path d="M479 1001L474 1005L473 1012L504 1146L507 1151L513 1153L618 1153L624 1150L657 1099L659 1092L587 965L583 962L578 962Z" fill="#e96aab"/>
<path d="M590 953L590 962L661 1089L667 1093L758 1104L763 1102L824 1002L824 996L798 944L792 939L614 917L607 921Z" fill="#e96aab"/>
<path d="M953 1025L947 1022L835 1003L830 1004L826 1007L768 1106L822 1210L827 1211L833 1209L935 1127L956 1034Z" fill="#e96aab"/>
<path d="M1053 1040L1049 1045L1049 1051L1094 1158L1100 1163L1107 1162L1215 1103L1220 1098L1220 1092L1217 1088L1116 1000L1108 1001Z" fill="#ec86bf"/>
<path d="M958 1040L940 1127L943 1131L1061 1232L1067 1234L1074 1231L1094 1168L1042 1046L969 1032L962 1034Z" fill="#e96aab"/>
<path d="M1142 930L1137 932L1134 937L1117 989L1118 996L1218 1084L1223 1086L1228 1085L1232 1082L1233 1077L1232 930L1229 926L1224 925Z" fill="#e96aab"/>
<path d="M821 1233L821 1217L766 1112L760 1107L665 1097L660 1101L626 1154L636 1230L638 1234L642 1237L814 1237Z" fill="#e96aab"/>
<path d="M943 1135L938 1133L932 1135L829 1217L826 1223L827 1234L835 1237L1037 1237L1043 1235L1046 1228L1043 1222Z" fill="#e96aab"/>
<path d="M1080 1225L1081 1233L1088 1237L1224 1237L1230 1235L1233 1228L1233 1113L1231 1107L1227 1104L1220 1104L1100 1170L1097 1174Z" fill="#e96aab"/>
<path d="M623 1165L620 1159L615 1157L507 1157L502 1161L464 1223L464 1232L467 1236L472 1237L627 1237L631 1233L632 1228Z" fill="#e96aab"/>
<path d="M181 85Q184 100 181 121M194 201Q199 212 204 224M146 145Q149 167 149 191M153 208Q162 219 161 241M28 69Q35 96 48 116M65 37Q65 51 73 58M40 144Q44 156 54 163M126 29Q142 50 162 66M32 129Q38 143 46 153M152 29Q163 38 166 53M121 65Q134 87 156 100M65 107Q72 116 81 122M126 38Q136 49 136 68M164 31Q183 43 199 58M102 55Q115 71 125 90M147 55Q153 66 155 79M53 90Q63 108 66 134M66 55Q74 70 82 84M107 54Q114 60 118 71M49 67Q56 81 62 95M41 97Q45 117 52 135M79 29Q91 41 97 58M169 47Q171 65 180 76M43 108Q52 127 57 149M58 117Q65 129 70 144M318 39Q317 48 316 59M252 34Q245 45 239 56M349 69Q341 86 325 111M343 31Q343 50 347 64M347 102Q340 118 330 137M355 124Q351 134 344 146M310 43Q298 64 292 78M413 53Q404 67 402 74M353 144Q353 154 346 169M307 137Q310 152 303 177M262 36Q260 51 263 62M386 122Q377 138 378 145M265 76Q264 99 270 116M324 80Q317 92 309 108M358 43Q359 60 354 82M307 94Q304 110 307 120M418 73Q417 78 407 93M289 51Q285 71 290 84M342 105Q342 120 343 132M358 37Q357 49 357 60M337 147Q338 169 343 187M286 72Q284 90 281 109M430 30Q425 45 419 62M364 88Q362 107 362 124M293 107Q297 120 292 142M366 128Q356 148 355 159M300 82Q291 102 287 119M413 47Q415 66 412 90M303 40Q303 57 304 72M366 124Q366 142 362 166M347 233Q351 251 352 271M448 149Q450 159 444 177M548 235Q550 258 553 281M600 175Q610 182 613 196M577 146Q575 172 580 191M582 201Q590 217 596 233M540 193Q551 212 555 237M588 183Q601 199 606 223M507 215Q506 232 508 245M545 196Q547 222 554 244M610 229Q612 247 622 259M574 139Q581 146 581 160M568 154Q573 173 583 188M484 162Q482 176 488 183M613 170Q624 186 626 211M529 181Q528 198 531 212M479 183Q493 200 505 220M488 207Q496 227 506 245M558 143Q568 163 574 189M521 138Q526 152 529 168M554 188Q554 206 556 222M563 247Q574 259 576 280M590 238Q589 250 591 261M602 231Q620 246 629 268M738 164Q739 182 738 201M639 97Q636 112 625 134M728 206Q727 224 728 240M691 143Q676 171 669 190M742 212Q742 220 735 235M734 132Q736 144 732 161M645 110Q640 124 640 133M695 171Q687 192 687 204M719 41Q714 64 715 80M671 208Q666 236 667 258M722 190Q720 206 713 229M649 88Q640 107 636 120M673 91Q665 103 662 111M708 90Q703 102 698 115M725 58Q711 75 693 97M776 160Q774 167 767 179M637 131Q630 151 630 163M743 69Q732 92 729 105M667 39Q670 62 668 89M674 201Q674 216 671 233M758 127Q754 137 742 155M776 164Q763 185 756 199M682 100Q684 107 678 124M682 141Q684 148 677 163M770 152Q771 165 765 185M701 236Q686 258 679 272M720 120Q719 133 713 152M767 102Q757 123 753 137M722 121Q722 133 722 145M662 199Q661 210 660 220M693 149Q685 163 682 171M587 87Q575 106 569 120M642 44Q626 65 611 84M494 99Q484 111 481 115M573 38Q558 58 548 73M637 46Q630 60 617 80M484 30Q476 45 464 64M558 81Q548 101 544 115M559 81Q549 101 542 117M560 88Q541 107 529 118M609 83Q602 93 595 102M581 51Q573 61 566 69M479 42Q473 48 458 63M509 32Q497 43 481 58M616 99Q610 114 603 131M612 64Q600 82 593 94M551 70Q546 88 546 103M799 64Q806 77 810 95M818 87Q820 101 826 111M828 93Q831 106 837 114M917 122Q921 133 931 139M816 100Q833 110 845 123M804 158Q817 174 836 184M813 157Q828 165 835 181M802 75Q809 90 825 96M804 145Q815 161 818 184M808 144Q814 154 822 162M814 46Q821 62 834 72M895 67Q902 76 910 84M786 126Q800 141 810 160M851 84Q861 94 874 100M942 127Q946 143 956 152M846 131Q863 149 880 168M845 97Q855 106 857 123M837 201Q845 208 853 214M810 83Q827 102 850 115M802 155Q814 162 825 170M838 60Q848 75 857 90M887 117Q893 140 902 161M831 190Q840 201 845 216M881 111Q892 127 906 139M910 124Q918 135 930 143M794 122Q799 134 813 136M920 111Q928 119 929 135M770 62Q777 79 786 94M898 62Q911 79 928 93M845 149Q856 165 861 186M777 88Q789 106 808 116M786 150Q793 165 803 178M866 112Q881 120 889 135M929 70Q941 81 947 98M1043 71Q1046 82 1047 94M1078 44Q1077 52 1073 63M1077 109Q1079 119 1074 136M1015 45Q1020 57 1019 74M1020 45Q1017 71 1018 94M1076 119Q1075 137 1065 163M1066 155Q1062 169 1055 186M1069 49Q1065 75 1062 100M1016 52Q1016 68 1023 76M1024 47Q1026 64 1030 78M974 46Q973 57 971 68M1031 83Q1033 105 1029 133M979 117Q981 130 979 148M1110 137Q1113 151 1109 171M1060 74Q1069 87 1069 110M1066 90Q1065 109 1073 119M1029 104Q1032 118 1033 134M1000 89Q1009 103 1009 126M986 57Q984 75 991 84M1032 100Q1029 121 1036 131M1047 86Q1046 115 1054 136M1047 133Q1053 156 1059 180M1050 122Q1048 132 1046 142M1010 145Q1004 163 1007 171M1024 56Q1020 74 1020 87M1231 61Q1226 83 1222 104M1159 75Q1151 88 1149 97M1181 55Q1173 75 1164 97M1172 60Q1165 82 1161 102M1178 62Q1179 77 1177 96M1196 33Q1196 60 1199 84M1228 144Q1228 154 1227 165M1154 75Q1154 87 1155 97M1184 69Q1190 89 1190 116M1200 32Q1199 54 1206 68M1207 48Q1206 65 1204 80M38 398Q29 418 26 433M44 361Q36 378 32 389M151 396Q152 400 144 415M129 361Q123 374 115 388M85 393Q70 412 64 423M46 333Q37 345 29 356M86 471Q70 495 64 510M153 421Q147 430 142 437M160 372Q152 394 146 414M46 289Q34 309 22 329M51 299Q41 309 31 321M123 316Q118 333 117 347M128 399Q124 410 114 428M94 417Q80 432 70 443M146 328Q139 339 131 351M151 373Q147 386 133 409M58 398Q58 415 52 437M69 296Q62 315 60 330M72 387Q72 407 64 434M175 421Q165 436 155 452M70 383Q65 392 52 410M110 410Q111 421 103 441M114 353Q112 369 106 388M96 394Q92 404 87 415M95 442Q82 456 61 479M114 413Q105 431 94 450M122 411Q104 434 96 447M91 350Q93 363 89 381M71 413Q67 429 60 448M294 274Q300 285 306 295M280 309Q281 325 287 336M225 284Q236 306 252 324M195 301Q203 319 206 342M175 319Q185 343 198 365M282 414Q283 431 287 445M190 364Q201 381 206 405M304 264Q310 272 307 290M221 321Q231 327 233 342M234 357Q246 374 249 399M269 449Q277 465 289 478M245 290Q246 314 247 336M243 430Q257 440 262 459M225 384Q229 404 244 413M203 338Q211 357 222 373M295 366Q300 382 306 397M290 442Q300 449 299 465M253 343Q257 353 261 364M277 281Q285 304 294 326M258 417Q274 433 283 455M230 303Q241 321 243 346M295 404Q298 426 300 449M183 377Q188 399 193 421M200 295Q205 306 206 321M308 297Q308 324 312 347M199 292Q201 314 213 327M367 322Q377 343 380 371M451 372Q451 382 446 398M381 382Q376 405 372 427M338 304Q335 334 342 353M390 379Q384 402 379 425M430 305Q440 323 443 349M402 343Q404 357 400 375M410 306Q414 315 408 333M423 442Q425 458 434 466M346 300Q352 320 359 339M322 406Q325 425 325 446M423 357Q423 376 415 402M357 388Q359 397 358 410M395 334Q400 357 405 380M383 309Q383 333 390 350M315 411Q313 430 311 449M360 301Q369 320 375 341M389 371Q395 384 395 403M404 428Q406 451 417 465M453 397Q452 411 460 416M359 389Q366 401 366 419M456 423Q456 439 459 452M398 384Q402 395 398 414M404 415Q404 434 406 450M431 318Q429 346 437 365M390 389Q391 410 387 436M404 414Q404 433 407 450M565 319Q570 338 578 355M515 326Q521 339 531 349M599 321Q599 333 599 344M579 318Q583 340 583 366M609 406Q613 424 620 440M575 357Q582 372 584 393M662 313Q661 328 670 333M629 356Q637 368 636 388M538 441Q532 463 535 477M561 418Q561 441 568 457M562 448Q570 467 580 486M585 328Q584 352 591 366M509 404Q519 412 524 427M607 308Q612 329 611 354M680 330Q677 347 681 358M595 385Q609 406 622 427M551 437Q550 454 554 465M518 314Q525 332 523 360M615 393Q616 409 618 425M477 364Q476 385 484 396M489 380Q501 401 512 423M571 421Q575 441 587 456M506 352Q512 372 514 398M495 301Q504 306 506 319M526 305Q533 315 537 327M499 294Q501 315 511 329M589 368Q589 388 598 399M596 304Q608 313 613 329M599 340Q594 362 597 377M551 410Q557 422 554 442M476 321Q480 333 478 351M490 345Q502 358 509 378M476 396Q483 408 487 423M512 347Q508 373 508 394M549 410Q546 426 549 436M586 339Q586 353 597 356M758 288Q756 303 754 317M852 225Q843 250 840 269M828 239Q826 252 830 260M863 322Q852 346 851 362M1003 375Q994 391 993 398M1020 250Q1007 266 1000 277M949 266Q946 274 936 289M983 390Q979 401 974 413M965 255Q958 260 947 270M999 181Q996 192 991 207M963 248Q942 272 931 286M961 192Q946 220 941 239M1026 268Q1025 273 1014 287M967 253Q954 268 934 290M979 344Q963 370 955 389M979 205Q978 211 969 225M989 295Q985 308 980 322M1057 308Q1053 319 1047 334M990 216Q987 224 977 240M983 209Q980 219 975 230M988 212Q972 226 950 246M922 218Q910 235 902 247M1026 197Q1012 213 1008 220M969 290Q965 310 952 338M1015 318Q999 331 983 345M1018 286Q1002 309 994 325M940 295Q923 319 916 334M979 172Q964 193 955 208M984 281Q975 294 968 306M950 188Q939 201 924 218M918 237Q913 255 905 275M991 196Q981 216 975 233M950 234Q939 249 938 254M920 239Q917 245 907 259M1011 314Q1005 325 1001 335M1089 195Q1079 219 1078 235M1165 238Q1151 255 1144 267M1177 252Q1169 269 1162 284M1178 208Q1165 226 1159 235M1185 166Q1182 179 1172 201M1204 171Q1188 192 1177 208M1126 230Q1115 245 1114 250M1147 163Q1144 168 1133 181M1067 195Q1058 213 1057 224M1209 190Q1206 215 1203 240M1066 207Q1065 232 1067 253M1218 284Q1221 297 1217 317M1133 215Q1126 230 1120 245M1144 280Q1140 297 1140 310M1224 237Q1215 257 1215 268M1161 288Q1152 304 1152 309M1196 172Q1190 183 1182 196M1089 217Q1082 230 1072 245M1072 211Q1073 221 1065 239M1180 285Q1183 293 1176 309M1226 291Q1219 302 1203 320M1209 287Q1207 300 1196 321M1164 170Q1164 176 1156 189M1170 286Q1170 299 1163 319M1133 262Q1119 281 1106 298M1066 221Q1065 234 1063 249M1083 347Q1096 364 1112 377M1082 377Q1093 388 1096 407M1040 372Q1047 392 1057 408M1023 415Q1037 434 1057 447M1033 420Q1044 443 1063 459M1160 422Q1172 436 1183 451M1137 355Q1155 365 1165 384M1142 404Q1155 420 1166 439M1095 336Q1102 351 1108 368M1209 413Q1213 422 1215 433M1159 401Q1163 418 1177 426M1148 390Q1155 409 1156 435M1054 352Q1066 376 1083 395M1049 380Q1060 394 1071 409M1172 408Q1179 424 1182 445M1139 400Q1142 412 1144 424M1144 349Q1153 359 1161 371M1063 397Q1071 417 1071 445M1198 343Q1215 358 1231 375M1161 391Q1160 405 1167 410M1211 412Q1217 421 1219 434M1059 421Q1069 437 1080 453M1167 367Q1182 371 1187 385M1214 355Q1219 369 1231 376M1210 347Q1217 372 1232 389M1155 335Q1163 353 1166 376M1208 393Q1219 398 1221 411M1080 399Q1095 413 1109 428M1223 557Q1221 570 1219 584M1075 538Q1069 548 1065 558M1210 496Q1209 519 1203 547M256 578Q249 599 253 611M123 519Q135 533 140 555M201 591Q206 602 207 617M247 487Q250 500 253 512M266 478Q268 493 262 516M175 537Q177 556 182 574M206 562Q210 572 211 586M146 543Q145 565 142 589M246 519Q253 536 261 551M113 493Q123 500 123 516M160 557Q164 578 174 593M223 577Q222 593 228 603M216 565Q219 587 231 601M68 541Q71 568 80 588M64 535Q70 547 75 561M51 538Q48 553 47 567M262 582Q269 589 271 601M179 477Q181 499 192 513M208 583Q206 596 210 603M218 528Q221 546 219 570M167 480Q164 494 165 504M91 567Q98 577 100 592M228 584Q233 593 229 611M250 467Q250 495 259 514M147 554Q155 574 160 596M67 533Q73 544 77 558M147 529Q142 546 145 555M103 566Q103 582 98 605M152 510Q156 524 163 535M263 507Q270 523 268 547M69 534Q69 556 72 576M191 540Q187 557 186 572M126 505Q131 526 132 551M389 511Q375 526 365 537M404 482Q400 495 396 508M433 514Q424 529 410 549M390 509Q379 522 376 527M334 661Q331 676 324 694M433 676Q428 694 417 718M406 525Q397 544 382 569M374 490Q361 502 344 518M348 598Q343 609 334 626M437 523Q432 538 426 554M377 643Q366 655 354 668M300 590Q299 599 289 616M384 660Q373 674 369 680M327 497Q325 500 312 512M449 666Q445 675 435 690M406 600Q400 615 400 625M396 617Q387 631 376 645M425 561Q416 577 400 601M399 528Q390 540 385 546M414 601Q403 621 396 636M347 636Q336 661 328 681M382 571Q372 583 356 601M460 644Q448 667 436 689M424 534Q414 554 403 576M389 559Q385 569 381 578M452 538Q440 550 437 553M458 501Q452 519 449 536M389 680Q376 695 371 703M443 564Q428 583 411 603M470 506Q463 518 455 531M387 508Q377 522 361 544M400 524Q390 541 383 554M402 497Q394 515 395 524M398 658Q387 669 374 681M425 525Q419 544 405 570M438 497Q430 514 424 527M355 498Q353 510 347 529M362 652Q353 659 336 674M444 681Q425 699 407 714M378 582Q360 605 350 620M426 516Q422 529 408 551M381 534Q368 545 358 553M340 601Q320 619 309 629M354 652Q345 664 332 680M314 536Q312 547 309 559M444 504Q433 517 430 522M597 575Q615 590 634 603M561 520Q569 526 568 541M541 519Q555 533 566 550M541 545Q552 565 567 582M557 653Q566 661 572 671M533 641Q538 658 549 668M541 588Q553 601 571 609M592 516Q598 532 602 550M532 672Q536 683 545 689M554 656Q570 673 582 694M543 609Q553 622 568 630M605 612Q614 617 617 630M566 520Q585 537 604 553M540 524Q547 536 561 542M634 581Q641 596 645 614M536 663Q547 683 567 694M590 516Q603 534 614 555M576 531Q591 547 612 556M517 724Q527 728 533 738M601 548Q610 554 609 569M627 623Q633 632 637 643M542 585Q551 602 559 621M485 647Q495 661 510 670M520 662Q528 680 546 689M610 535Q612 547 623 551M496 517Q508 530 519 544M575 547Q592 558 603 574M495 620Q504 640 513 660M506 640Q511 652 524 656M575 566Q585 588 595 611M520 565Q532 568 537 578M587 590Q607 605 628 620M581 505Q593 509 599 518M719 475Q716 488 707 506M719 441Q717 453 715 465M683 402Q674 424 673 439M734 576Q730 589 728 599M712 568Q709 589 705 610M805 469Q803 498 808 520M907 519Q909 530 909 544M964 561Q965 573 963 588M922 510Q920 531 924 547M893 487Q891 496 881 512M903 549Q901 561 893 578M865 536Q865 552 868 567M817 533Q818 544 813 561M955 517Q951 540 944 566M909 485Q906 513 909 535M903 445Q893 471 893 486M840 511Q835 527 831 543M811 516Q816 540 818 567M925 508Q927 521 920 544M984 468Q981 487 972 512M989 530Q986 544 974 566M958 449Q955 459 946 476M828 436Q824 459 828 474M956 456Q944 476 941 488M806 506Q805 534 811 556M894 543Q885 566 885 580M831 499Q829 525 837 542M857 471Q854 491 860 502M824 512Q819 526 812 541M945 465Q937 478 936 484M852 497Q851 505 845 518M818 516Q812 532 814 539M856 475Q855 489 847 512M867 461Q861 475 859 486M888 549Q882 568 881 583M880 537Q876 551 877 559M856 458Q849 476 851 484M847 444Q844 454 837 468M909 549Q895 575 891 592M34 712Q37 729 43 742M231 695Q235 713 244 726M65 715Q68 736 81 748M221 643Q219 662 213 684M104 739Q116 752 119 772M204 734Q199 755 201 768M253 649Q261 668 261 694M212 689Q224 706 226 733M121 710Q125 721 125 736M284 687Q282 703 278 721M213 663Q221 675 223 693M47 649Q47 662 46 677M124 744Q130 758 136 771M191 707Q187 722 186 733M39 604Q39 632 48 652M114 754Q115 769 122 779M189 731Q191 745 187 765M48 731Q44 751 44 767M223 697Q227 711 233 723M238 719Q239 731 232 751M264 690Q255 720 253 741M196 732Q193 757 198 774M135 709Q137 720 132 740M116 636Q125 655 133 673M68 612Q71 632 69 657M29 684Q33 707 34 734M112 679Q120 698 119 727M193 626Q188 647 192 659M33 741Q29 757 35 764M25 628Q24 648 23 668M138 745Q130 767 130 781M182 659Q183 669 181 680M228 645Q236 658 235 680M41 610Q47 619 50 631M82 719Q76 736 79 743M234 677Q235 688 237 699M236 639Q233 654 234 665M24 671Q23 694 31 708M188 707Q196 730 208 749M280 699Q277 718 277 734M120 687Q116 703 121 711M81 727Q84 747 89 765M99 683Q95 698 93 712M31 667Q36 685 47 697M272 638Q275 651 279 662M153 692Q151 703 152 713M162 644Q166 653 169 663M199 723Q206 737 211 752M145 732Q147 752 160 762M168 688Q174 706 179 724M198 713Q204 739 211 763M118 653Q120 662 113 679M112 704Q114 717 111 735M91 661Q93 688 97 712M101 639Q111 652 116 670M45 690Q45 715 54 733M177 754Q182 763 181 778M130 753Q136 762 140 773M216 725Q217 745 226 758M239 633Q247 657 257 680M100 642Q103 662 115 674M250 703Q255 712 254 728M824 648Q832 665 845 678M869 668Q876 679 882 691M883 709Q899 717 906 734M818 727Q826 739 832 753M804 663Q812 671 816 684M900 643Q916 661 925 686M918 675Q924 683 923 698M870 639Q881 653 891 669M855 709Q865 727 881 740M822 643Q833 655 839 672M881 646Q892 671 913 687M880 672Q898 685 908 707M893 699Q906 713 919 728M819 712Q836 724 848 741M949 608Q957 613 958 626M882 671Q894 681 898 700M895 706Q902 720 904 739M879 639Q884 652 885 668M847 666Q852 680 862 690M793 735Q803 747 812 759M837 705Q836 724 844 733M896 649Q908 662 919 677M959 654Q963 669 965 686M1085 689Q1094 707 1099 730M1087 668Q1090 680 1100 685M1110 646Q1112 659 1123 662M967 605Q980 627 1000 642M1063 602Q1082 615 1094 635M973 665Q982 681 995 692M979 696Q991 711 997 731M1026 644Q1033 657 1041 669M1090 598Q1098 612 1116 616M1104 608Q1110 621 1119 631M1048 589Q1052 607 1060 620M1030 710Q1038 725 1045 741M1010 674Q1029 685 1038 705M1041 686Q1050 691 1052 704M1022 677Q1038 691 1048 710M971 627Q994 636 1010 652M1012 603Q1022 623 1037 638M982 609Q991 630 996 655M1068 668Q1084 687 1106 698M1037 643Q1042 661 1056 671M1015 701Q1023 714 1037 720M1112 671Q1113 685 1120 693M1089 611Q1092 622 1100 629M1022 601Q1024 617 1035 624M1092 674Q1099 692 1109 706M1227 718Q1225 727 1216 742M1232 716Q1213 738 1202 751M1155 631Q1152 650 1153 664M1186 642Q1187 653 1185 667M1164 653Q1155 677 1154 692M1215 622Q1212 632 1204 647M1182 712Q1178 740 1180 761M1137 704Q1131 722 1127 736M1138 663Q1134 681 1136 691M1201 683Q1192 697 1175 718M1168 674Q1164 683 1153 698M1146 692Q1140 705 1131 721M1162 642Q1152 661 1148 675M1232 610Q1226 628 1217 649M1195 656Q1182 675 1178 686M1192 741Q1190 751 1178 770M632 742Q631 760 640 768M674 732Q677 744 679 757M578 769Q586 775 586 788M764 725Q771 741 777 759M649 649Q658 670 669 690M634 741Q642 750 640 769M749 705Q754 725 765 740M748 676Q752 690 763 697M597 714Q610 732 628 743M658 723Q664 734 669 746M665 678Q678 686 686 697M705 675Q708 688 711 702M708 660Q718 683 727 706M622 683Q632 691 637 703M632 670Q633 682 639 690M607 781Q625 788 632 806M632 768Q636 790 649 802M698 733Q708 755 714 782M630 664Q639 682 639 711M591 757Q598 767 605 778M622 771Q629 781 631 796M702 689Q718 702 731 719M612 700Q613 722 620 738M629 691Q634 716 646 735M588 740Q589 759 598 768M679 704Q688 719 690 740M671 675Q677 689 691 695M81 838Q82 851 87 860M52 950Q53 967 53 986M113 848Q124 865 130 887M93 821Q102 835 105 854M87 895Q88 919 97 936M25 818Q36 824 40 838M91 943Q100 964 117 979M142 818Q145 844 155 862M37 929Q47 953 64 969M64 795Q72 817 88 831M44 946Q48 956 49 971M27 865Q37 874 42 888M114 855Q126 875 133 900M75 827Q86 845 89 871M70 830Q69 846 71 858M63 882Q72 894 77 911M136 821Q144 834 145 854M94 902Q104 908 106 921M29 849Q29 868 36 879M86 873Q93 886 98 901M102 847Q111 866 123 881M107 831Q112 840 109 857M133 817Q148 831 155 854M122 925Q125 947 138 960M71 837Q76 847 83 856M27 871Q36 893 47 913M83 912Q89 923 88 941M322 868Q318 883 318 893M235 781Q241 803 237 833M286 876Q281 894 269 919M232 909Q224 927 220 940M216 810Q215 825 207 846M347 780Q345 807 353 823M197 817Q196 832 198 844M250 827Q240 849 234 866M250 901Q255 925 262 947M236 881Q227 896 225 904M326 807Q328 816 326 829M334 788Q331 805 328 821M185 859Q176 883 177 899M276 867Q270 882 268 893M170 821Q167 848 169 869M260 824Q261 838 262 852M339 738Q328 757 327 766M293 847Q286 870 278 894M252 767Q245 785 246 793M183 839Q179 858 174 879M272 882Q272 892 265 910M263 814Q263 830 256 853M318 735Q312 756 316 768M293 862Q296 884 297 909M222 845Q222 857 215 875M266 785Q268 808 275 827M249 768Q245 778 239 790M244 841Q246 863 240 891M352 834Q351 847 347 862M272 862Q271 873 269 884M213 855Q211 880 206 907M237 896Q241 907 235 926M194 821Q199 832 198 847M353 863Q346 886 340 909M548 921Q557 928 558 943M395 832Q404 854 420 870M536 794Q546 814 553 835M524 864Q527 883 538 894M436 909Q451 928 460 953M424 807Q424 830 431 848M468 805Q481 824 485 852M481 857Q496 875 508 896M536 875Q544 894 553 913M554 781Q571 801 588 820M468 838Q480 860 490 883M499 857Q498 876 501 892M404 908Q404 927 411 940M539 813Q546 838 561 854M474 773Q475 787 484 793M405 922Q414 938 426 951M511 785Q516 792 513 807M437 763Q444 771 445 784M495 921Q504 930 506 944M429 944Q439 967 447 991M402 921Q412 930 420 942M402 862Q406 881 406 903M431 761Q437 771 435 789M571 902Q574 920 581 934M500 773Q512 780 515 795M422 901Q422 926 432 940M497 837Q505 856 508 880M486 854Q493 875 503 892M501 750Q503 762 505 773M483 807Q487 832 494 855M554 926Q566 936 571 952M538 916Q545 924 546 937M434 825Q438 852 443 876M543 882Q544 898 547 913M434 755Q452 770 463 793M383 751Q387 765 396 776M524 849Q530 860 538 870M384 842Q395 861 413 872M554 914Q564 935 578 952M546 926Q561 940 572 958M482 785Q488 801 504 808M486 857Q497 866 502 880M521 857Q533 870 541 888M422 802Q427 821 435 838M542 823Q549 833 559 840M576 892Q581 910 596 919M406 736Q412 746 417 756M490 751Q489 769 496 779M564 811Q569 820 567 836M434 914Q438 933 452 942M554 797Q552 825 560 844M563 859Q570 875 582 886M743 843Q746 861 758 870M736 909Q744 919 753 927M733 869Q751 886 764 908M696 815Q703 827 713 837M742 816Q751 835 753 859M779 810Q784 821 784 837M763 862Q778 868 784 882M738 806Q749 815 754 830M786 765Q789 784 797 799M629 884Q641 888 644 901M771 893Q778 914 793 925M625 872Q638 878 643 892M762 776Q770 788 781 797M743 797Q750 818 750 845M737 839Q747 860 750 888M758 820Q774 835 785 854M686 896Q691 909 701 918M781 903Q788 914 794 926M771 806Q774 819 777 830M717 803Q733 820 743 842M752 858Q761 871 761 893M661 864Q666 882 667 905M777 833Q783 857 799 872M748 828Q759 844 774 856M731 872Q729 887 735 895M649 836Q650 849 652 860M663 837Q674 857 683 878M685 882Q692 894 698 907M814 823Q821 842 824 866M739 844Q745 851 744 864M673 857Q680 880 685 904M640 874Q653 889 661 909M716 818Q716 845 725 862M748 834Q750 857 758 875M761 885Q775 904 779 932M760 891Q768 908 779 922M787 839Q807 853 821 874M740 861Q756 876 768 895M725 791Q733 806 746 817M942 775Q936 797 926 823M954 798Q945 812 943 818M981 833Q993 838 1000 847M1095 763Q1103 778 1105 798M1007 770Q1025 782 1033 805M1029 845Q1036 864 1043 882M1073 752Q1092 763 1104 781M1051 788Q1064 806 1074 828M1012 824Q1020 833 1023 847M991 812Q1002 822 1013 832M1000 838Q1007 847 1017 853M1063 821Q1065 835 1070 846M1067 844Q1071 862 1081 875M1053 809Q1062 826 1069 846M1076 866Q1083 877 1095 883M1091 877Q1091 891 1101 895M1096 756Q1109 770 1123 783M1074 759Q1082 782 1097 797M1053 851Q1075 864 1092 882M1081 786Q1084 804 1097 813M1067 768Q1085 780 1096 799M1147 894Q1154 901 1154 914M1190 801Q1194 822 1197 844M1187 841Q1191 864 1193 890M1166 777Q1176 791 1183 808M1170 798Q1175 810 1178 823M1195 790Q1203 806 1218 816M1141 797Q1158 815 1175 834M1126 898Q1127 911 1131 921M1146 774Q1161 787 1173 803M1173 796Q1175 820 1186 835M1155 777Q1159 791 1160 810M1169 876Q1181 897 1199 912M1175 816Q1185 827 1196 837M1152 871Q1164 876 1168 889M1192 857Q1201 876 1217 888M879 874Q882 890 896 895M835 903Q853 920 873 935M860 959Q870 974 870 999M882 884Q887 911 900 930M900 949Q917 963 933 979M809 919Q818 932 829 943M878 871Q894 881 906 895M819 925Q832 935 842 947M865 872Q879 885 891 899M841 963Q855 977 872 987M929 896Q940 913 943 939M921 919Q933 933 948 943M924 916Q932 937 949 948M862 895Q867 907 876 915M864 888Q876 901 887 916M835 944Q847 963 865 977M893 931Q901 954 910 976M874 973Q887 987 903 999M810 948Q816 972 831 988M828 967Q840 970 844 982M829 941Q838 965 848 988M998 946Q1003 965 998 995M1094 946Q1085 976 1085 996M1077 962Q1064 985 1054 1005M984 951Q978 965 965 986M1045 995Q1042 1017 1047 1031M982 955Q983 970 985 985M1103 946Q1094 963 1094 972M1108 932Q1110 949 1109 970M1058 948Q1063 968 1060 995M1019 923Q1025 940 1025 962M1006 944Q1006 966 1008 984M1046 983Q1045 997 1045 1010M1051 902Q1046 918 1046 928M1027 977Q1020 1001 1021 1017M1058 899Q1058 911 1060 921M1053 937Q1046 953 1036 974M1008 944Q1006 967 1007 987M1070 993Q1061 1008 1061 1015M1010 890Q1005 913 1000 934M998 894Q995 905 990 917M132 1172Q122 1192 112 1212M67 1092Q55 1104 49 1110M50 1164Q39 1175 25 1189M59 1169Q54 1181 49 1192M155 1138Q138 1160 130 1173M83 1176Q76 1188 60 1208M66 1030Q58 1039 50 1048M144 1110Q140 1124 128 1146M67 1043Q59 1057 54 1068M115 1162Q102 1178 88 1196M55 1201Q44 1218 41 1226M93 1046Q88 1052 75 1066M84 1079Q77 1095 72 1110M139 1134Q128 1148 123 1157M84 1142Q78 1159 63 1185M75 1097Q59 1117 52 1127M98 1044Q86 1061 68 1085M87 1141Q75 1160 69 1173M92 1057Q89 1074 77 1100M32 1116Q33 1125 26 1141M45 1024Q39 1041 27 1065M90 1129Q79 1141 61 1160M87 1194Q76 1213 61 1235M116 1122Q104 1136 100 1143M82 992Q72 1013 60 1036M125 1072Q117 1083 108 1096M71 1101Q54 1122 48 1134M188 1000Q191 1019 184 1047M156 1019Q152 1036 149 1052M162 991Q161 1016 161 1042M202 1040Q190 1055 181 1067M175 994Q169 1015 169 1031M240 1015Q235 1026 223 1044M191 955Q187 962 179 972M217 1075Q202 1093 190 1109M170 1077Q171 1092 166 1112M217 1080Q212 1098 215 1107M148 985Q140 1014 140 1035M184 959Q177 970 167 985M180 1003Q179 1013 168 1032M154 1023Q151 1030 140 1045M178 1021Q169 1033 156 1051M230 994Q222 1018 218 1038M210 975Q196 991 185 1004M181 1027Q172 1046 158 1071M263 992Q280 1010 296 1028M362 975Q367 994 380 1005M278 987Q294 997 310 1008M362 949Q378 966 392 985M329 990Q335 1000 341 1009M282 953Q292 958 296 969M322 965Q329 981 338 995M295 964Q296 983 307 993M374 921Q382 940 390 959M323 988Q334 1013 352 1031M374 939Q381 960 389 980M287 976Q290 995 301 1006M367 942Q382 958 392 978M297 977Q308 986 313 1000M354 916Q358 939 370 954M408 988Q416 998 418 1015M257 990Q264 1007 278 1017M365 911Q372 932 380 953M345 996Q350 1009 362 1016M338 1026Q349 1030 355 1039M300 948Q315 969 329 990M337 988Q345 994 354 1000M294 951Q310 967 331 978M277 1062Q291 1067 296 1082M391 1090Q388 1103 389 1114M420 1044Q421 1065 417 1089M335 1110Q340 1127 343 1145M425 1123Q429 1144 424 1175M465 1096Q463 1113 468 1123M457 1083Q460 1099 466 1112M422 1097Q425 1114 427 1131M466 1096Q467 1115 464 1136M431 1155Q427 1175 432 1186M476 1079Q476 1095 478 1108M421 1100Q415 1124 415 1141M465 1010Q466 1033 476 1046M457 1179Q458 1193 459 1208M422 1030Q413 1056 409 1079M457 1187Q459 1198 460 1212M400 1111Q404 1126 403 1148M373 1169Q371 1196 374 1217M354 1102Q360 1122 365 1143M383 1109Q385 1116 378 1131M475 1071Q475 1087 473 1104M457 1062Q461 1077 468 1090M470 1059Q480 1079 483 1106M457 1045Q461 1058 464 1071M358 1090Q359 1103 354 1122M454 1176Q447 1204 449 1223M463 1083Q478 1101 482 1128M347 1155Q352 1167 352 1185M476 1122Q486 1137 490 1156M443 1062Q449 1072 450 1089M432 1056Q432 1070 426 1090M428 1095Q421 1114 424 1125M387 1175Q385 1188 386 1199M423 1168Q418 1184 416 1198M487 1130Q489 1143 496 1152M424 1139Q422 1152 424 1162M393 1147Q393 1174 399 1195M436 1031Q441 1047 449 1060M330 1186Q332 1197 336 1207M271 1106Q274 1126 279 1144M335 1201Q343 1209 350 1218M164 1160Q176 1180 191 1197M334 1207Q343 1217 354 1225M291 1199Q298 1214 310 1223M157 1172Q165 1194 179 1209M144 1212Q144 1226 149 1235M234 1138Q238 1162 246 1181M223 1157Q233 1177 250 1192M162 1151Q176 1171 192 1188M306 1161Q328 1172 341 1192M238 1179Q244 1186 244 1201M288 1128Q296 1142 303 1155M318 1177Q325 1191 330 1206M265 1146Q274 1165 289 1179M304 1182Q315 1200 320 1224M291 1109Q302 1130 321 1142M267 1107Q269 1118 272 1128M305 1200Q313 1206 319 1215M337 1192Q340 1205 343 1218M208 1145Q213 1157 220 1166M308 1124Q314 1141 326 1152M178 1132Q190 1137 196 1147M152 1179Q155 1192 164 1199M579 965Q568 983 563 994M523 1006Q513 1017 506 1025M545 1068Q538 1087 523 1114M545 1051Q536 1063 524 1078M574 1036Q569 1051 561 1068M533 1011Q520 1035 511 1056M603 1055Q593 1080 587 1100M567 977Q559 984 547 996M570 1121Q566 1130 559 1142M503 1032Q495 1050 491 1063M531 1054Q520 1068 512 1078M622 1117Q606 1130 592 1143M546 1054Q541 1066 536 1080M597 1094Q591 1105 583 1117M595 1088Q592 1099 585 1113M625 1111Q625 1119 617 1135M542 987Q524 1003 516 1009M588 991Q583 995 569 1007M567 1115Q564 1119 553 1133M637 1059Q624 1069 618 1073M551 1114Q543 1128 543 1134M563 984Q559 992 549 1005M609 1013Q599 1036 594 1053M542 1034Q534 1050 535 1057M509 1056Q502 1071 492 1090M669 1044Q671 1056 682 1059M646 1039Q647 1053 656 1059M745 1041Q750 1056 751 1075M745 1060Q755 1077 755 1102M664 926Q665 939 668 950M620 934Q630 940 633 951M639 988Q641 1007 641 1029M632 978Q646 986 653 1002M699 1052Q703 1061 707 1072M735 1071Q744 1090 761 1100M740 944Q748 967 766 981M765 1015Q769 1032 772 1050M704 956Q716 967 719 988M646 1037Q651 1064 662 1085M686 959Q696 980 707 1000M732 1011Q730 1027 736 1034M699 1060Q703 1073 713 1079M739 978Q744 999 746 1023M609 979Q623 991 631 1009M624 952Q635 975 655 991M689 935Q688 949 694 957M685 1063Q684 1079 688 1090M706 938Q718 951 724 970M624 947Q633 959 641 972M656 929Q670 945 679 966M758 1017Q766 1027 766 1046M714 999Q726 1022 742 1041M794 998Q791 1014 795 1022M689 1003Q688 1030 692 1051M629 1007Q642 1012 645 1027M835 1035Q843 1053 842 1081M813 1038Q819 1052 823 1068M883 1070Q881 1084 870 1106M854 1169Q853 1176 847 1189M865 1073Q860 1093 854 1116M819 1124Q809 1143 808 1154M841 1111Q841 1132 850 1145M829 1166Q835 1180 834 1201M853 1107Q858 1132 866 1154M832 1054Q836 1062 834 1075M859 1058Q856 1077 848 1102M883 1023Q880 1035 879 1046M866 1078Q852 1106 848 1124M852 1057Q854 1065 852 1079M876 1101Q882 1107 881 1122M862 1071Q864 1085 867 1096M855 1127Q856 1140 859 1151M888 1026Q889 1047 883 1075M872 1086Q869 1110 866 1134M859 1087Q860 1098 854 1116M834 1136Q840 1150 841 1168M818 1064Q816 1090 821 1108M841 1010Q843 1031 852 1046M926 1108Q917 1128 916 1141M1116 1064Q1128 1085 1148 1098M1078 1047Q1084 1061 1097 1069M1138 1044Q1150 1060 1166 1074M1065 1079Q1069 1093 1076 1105M1136 1067Q1155 1082 1167 1105M1065 1077Q1079 1092 1097 1104M1103 1010Q1118 1026 1134 1041M1075 1095Q1082 1115 1088 1135M1081 1051Q1098 1068 1116 1084M1166 1087Q1175 1092 1178 1104M1119 1040Q1119 1058 1129 1067M1190 1080Q1197 1093 1206 1104M1102 1046Q1108 1067 1120 1082M1186 1069Q1199 1080 1206 1099M1111 1014Q1120 1027 1134 1036M1138 1067Q1146 1079 1146 1101M1081 1087Q1096 1106 1117 1118M1072 1036Q1076 1060 1085 1080M1065 1040Q1072 1056 1082 1069M1097 1113Q1098 1126 1108 1132M1086 1052Q1090 1064 1095 1077M1145 1061Q1151 1074 1164 1080M1063 1105Q1076 1120 1081 1142M1066 1112Q1070 1134 1078 1152M1087 1156Q1084 1170 1085 1180M948 1103Q942 1117 944 1126M978 1056Q979 1074 983 1089M1012 1123Q1016 1142 1022 1158M1028 1145Q1031 1156 1024 1177M1040 1167Q1044 1176 1045 1188M1019 1083Q1019 1101 1026 1110M1011 1105Q1015 1120 1013 1142M977 1042Q975 1065 980 1080M1030 1178Q1031 1193 1039 1200M1055 1200Q1061 1210 1059 1226M1047 1089Q1041 1119 1043 1139M1030 1118Q1034 1134 1033 1157M1004 1053Q1007 1074 1005 1099M1002 1081Q995 1101 997 1112M992 1130Q995 1143 992 1160M1223 1038Q1222 1053 1215 1074M1175 964Q1162 980 1156 988M1228 1014Q1221 1031 1207 1054M1226 927Q1225 943 1221 961M1218 929Q1214 948 1202 974M1150 936Q1145 944 1132 959M1182 977Q1182 998 1176 1025M1216 968Q1208 986 1194 1010M1180 1000Q1181 1012 1176 1031M1146 932Q1140 942 1135 950M1211 1003Q1194 1025 1187 1037M1151 951Q1153 963 1148 983M657 1158Q659 1163 653 1178M656 1152Q654 1173 660 1186M749 1131Q747 1152 749 1169M672 1179Q659 1203 650 1223M778 1164Q766 1193 763 1212M650 1139Q649 1161 647 1184M794 1188Q800 1198 798 1216M733 1164Q726 1182 725 1195M780 1161Q778 1182 774 1206M663 1146Q661 1167 668 1179M715 1171Q714 1184 716 1194M781 1170Q775 1193 770 1215M736 1137Q733 1159 730 1183M663 1177Q667 1187 664 1205M742 1142Q743 1161 743 1182M764 1177Q764 1193 757 1216M673 1131Q670 1140 665 1151M681 1136Q674 1153 663 1172M679 1155Q679 1171 671 1196M676 1128Q674 1153 672 1176M698 1189Q703 1204 700 1228M923 1160Q919 1175 907 1198M871 1197Q856 1216 845 1232M956 1192Q959 1201 955 1217M916 1191Q906 1209 900 1223M947 1188Q939 1199 922 1219M944 1168Q942 1187 937 1211M930 1193Q924 1202 916 1214M959 1156Q945 1171 939 1178M981 1206Q979 1211 968 1224M1001 1199Q993 1208 984 1220M883 1209Q877 1216 864 1231M996 1201Q998 1210 992 1227M903 1202Q900 1219 898 1236M1207 1184Q1208 1200 1200 1226M1125 1160Q1132 1178 1136 1200M1138 1169Q1139 1193 1148 1211M1158 1178Q1155 1200 1159 1215M1206 1118Q1196 1143 1195 1160M1206 1177Q1202 1193 1202 1203M1128 1157Q1138 1173 1143 1193M1143 1154Q1142 1174 1145 1189M1166 1185Q1166 1200 1162 1220M1138 1160Q1145 1179 1147 1204M1211 1149Q1215 1158 1216 1170M1215 1172Q1214 1194 1215 1214M1174 1168Q1175 1182 1173 1200M1228 1143Q1229 1159 1230 1175M532 1186Q538 1204 535 1230M606 1213Q604 1224 601 1236M571 1181Q562 1200 556 1216M536 1183Q529 1201 524 1216M551 1171Q550 1198 551 1222M600 1210Q599 1218 595 1230M616 1200Q608 1215 600 1230M570 1209Q565 1217 559 1226M486 1195Q485 1208 480 1226M509 1170Q505 1179 494 1194M612 1197Q612 1216 615 1232" fill="none" stroke="#f5aedb" stroke-width="2" stroke-linecap="round" opacity=".85"/>
<g fill="#5a3c94"><ellipse cx="290" cy="214" rx="9" ry="4.5" transform="rotate(57 294 217)"/><ellipse cx="290" cy="211" rx="9" ry="4.5" transform="rotate(132 294 217)"/><ellipse cx="468" cy="123" rx="9" ry="4.5" transform="rotate(161 463 121)"/><ellipse cx="466" cy="308" rx="9" ry="4.5" transform="rotate(113 474 311)"/><ellipse cx="491" cy="286" rx="9" ry="4.5" transform="rotate(5 498 290)"/><ellipse cx="606" cy="135" rx="9" ry="4.5" transform="rotate(163 607 139)"/><ellipse cx="504" cy="289" rx="9" ry="4.5" transform="rotate(76 498 290)"/><ellipse cx="673" cy="279" rx="9" ry="4.5" transform="rotate(82 676 281)"/><ellipse cx="611" cy="144" rx="9" ry="4.5" transform="rotate(26 607 139)"/><ellipse cx="968" cy="162" rx="9" ry="4.5" transform="rotate(121 973 166)"/><ellipse cx="885" cy="234" rx="9" ry="4.5" transform="rotate(156 886 228)"/><ellipse cx="1168" cy="151" rx="9" ry="4.5" transform="rotate(124 1164 153)"/><ellipse cx="1045" cy="195" rx="9" ry="4.5" transform="rotate(56 1046 200)"/><ellipse cx="1164" cy="146" rx="9" ry="4.5" transform="rotate(77 1164 153)"/><ellipse cx="304" cy="488" rx="9" ry="4.5" transform="rotate(9 300 487)"/><ellipse cx="201" cy="435" rx="9" ry="4.5" transform="rotate(52 194 437)"/><ellipse cx="325" cy="267" rx="9" ry="4.5" transform="rotate(4 322 272)"/><ellipse cx="309" cy="486" rx="9" ry="4.5" transform="rotate(49 306 483)"/><ellipse cx="700" cy="369" rx="9" ry="4.5" transform="rotate(50 692 367)"/><ellipse cx="664" cy="269" rx="9" ry="4.5" transform="rotate(12 660 273)"/><ellipse cx="695" cy="363" rx="9" ry="4.5" transform="rotate(25 692 367)"/><ellipse cx="675" cy="287" rx="9" ry="4.5" transform="rotate(46 676 281)"/><ellipse cx="991" cy="424" rx="9" ry="4.5" transform="rotate(68 984 429)"/><ellipse cx="1080" cy="321" rx="9" ry="4.5" transform="rotate(63 1078 318)"/><ellipse cx="1083" cy="314" rx="9" ry="4.5" transform="rotate(79 1078 318)"/><ellipse cx="980" cy="427" rx="9" ry="4.5" transform="rotate(148 984 429)"/><ellipse cx="1000" cy="546" rx="9" ry="4.5" transform="rotate(179 1004 546)"/><ellipse cx="303" cy="483" rx="9" ry="4.5" transform="rotate(164 300 487)"/><ellipse cx="269" cy="622" rx="9" ry="4.5" transform="rotate(67 269 628)"/><ellipse cx="303" cy="488" rx="9" ry="4.5" transform="rotate(88 306 483)"/><ellipse cx="313" cy="717" rx="9" ry="4.5" transform="rotate(91 313 719)"/><ellipse cx="647" cy="627" rx="9" ry="4.5" transform="rotate(64 650 633)"/><ellipse cx="542" cy="745" rx="9" ry="4.5" transform="rotate(13 546 745)"/><ellipse cx="692" cy="371" rx="9" ry="4.5" transform="rotate(2 692 367)"/><ellipse cx="589" cy="483" rx="9" ry="4.5" transform="rotate(15 587 490)"/><ellipse cx="643" cy="638" rx="9" ry="4.5" transform="rotate(126 650 633)"/><ellipse cx="777" cy="685" rx="9" ry="4.5" transform="rotate(81 782 688)"/><ellipse cx="956" cy="602" rx="9" ry="4.5" transform="rotate(33 958 605)"/><ellipse cx="999" cy="475" rx="9" ry="4.5" transform="rotate(110 1007 474)"/><ellipse cx="265" cy="635" rx="9" ry="4.5" transform="rotate(104 269 628)"/><ellipse cx="960" cy="605" rx="9" ry="4.5" transform="rotate(140 958 605)"/><ellipse cx="832" cy="603" rx="9" ry="4.5" transform="rotate(118 836 605)"/><ellipse cx="974" cy="736" rx="9" ry="4.5" transform="rotate(125 980 735)"/><ellipse cx="964" cy="607" rx="9" ry="4.5" transform="rotate(70 958 605)"/><ellipse cx="1138" cy="766" rx="9" ry="4.5" transform="rotate(50 1136 771)"/><ellipse cx="540" cy="744" rx="9" ry="4.5" transform="rotate(26 546 745)"/><ellipse cx="781" cy="685" rx="9" ry="4.5" transform="rotate(127 782 688)"/><ellipse cx="160" cy="811" rx="9" ry="4.5" transform="rotate(67 156 811)"/><ellipse cx="365" cy="906" rx="9" ry="4.5" transform="rotate(164 360 902)"/><ellipse cx="238" cy="953" rx="9" ry="4.5" transform="rotate(177 244 961)"/><ellipse cx="367" cy="739" rx="9" ry="4.5" transform="rotate(22 360 743)"/><ellipse cx="586" cy="958" rx="9" ry="4.5" transform="rotate(160 585 958)"/><ellipse cx="800" cy="931" rx="9" ry="4.5" transform="rotate(33 797 938)"/><ellipse cx="823" cy="869" rx="9" ry="4.5" transform="rotate(148 829 865)"/><ellipse cx="987" cy="735" rx="9" ry="4.5" transform="rotate(10 980 735)"/><ellipse cx="806" cy="764" rx="9" ry="4.5" transform="rotate(51 804 764)"/><ellipse cx="983" cy="739" rx="9" ry="4.5" transform="rotate(128 989 745)"/><ellipse cx="1118" cy="903" rx="9" ry="4.5" transform="rotate(9 1116 901)"/><ellipse cx="1115" cy="901" rx="9" ry="4.5" transform="rotate(123 1116 901)"/><ellipse cx="952" cy="1019" rx="9" ry="4.5" transform="rotate(41 952 1021)"/><ellipse cx="970" cy="869" rx="9" ry="4.5" transform="rotate(152 974 865)"/><ellipse cx="1112" cy="901" rx="9" ry="4.5" transform="rotate(154 1116 901)"/><ellipse cx="958" cy="1036" rx="9" ry="4.5" transform="rotate(62 958 1029)"/><ellipse cx="115" cy="993" rx="9" ry="4.5" transform="rotate(14 117 992)"/><ellipse cx="248" cy="965" rx="9" ry="4.5" transform="rotate(55 244 961)"/><ellipse cx="112" cy="997" rx="9" ry="4.5" transform="rotate(140 117 992)"/><ellipse cx="322" cy="1110" rx="9" ry="4.5" transform="rotate(85 328 1113)"/><ellipse cx="449" cy="1000" rx="9" ry="4.5" transform="rotate(90 451 1000)"/><ellipse cx="328" cy="1116" rx="9" ry="4.5" transform="rotate(64 328 1113)"/><ellipse cx="466" cy="1003" rx="9" ry="4.5" transform="rotate(36 469 1003)"/><ellipse cx="328" cy="1111" rx="9" ry="4.5" transform="rotate(7 328 1113)"/><ellipse cx="591" cy="959" rx="9" ry="4.5" transform="rotate(175 585 958)"/><ellipse cx="512" cy="1153" rx="9" ry="4.5" transform="rotate(9 504 1155)"/><ellipse cx="590" cy="954" rx="9" ry="4.5" transform="rotate(163 585 958)"/><ellipse cx="820" cy="994" rx="9" ry="4.5" transform="rotate(162 828 1000)"/><ellipse cx="768" cy="1104" rx="9" ry="4.5" transform="rotate(48 764 1106)"/><ellipse cx="821" cy="1212" rx="9" ry="4.5" transform="rotate(6 824 1219)"/><ellipse cx="1106" cy="994" rx="9" ry="4.5" transform="rotate(87 1114 995)"/><ellipse cx="1100" cy="1176" rx="9" ry="4.5" transform="rotate(42 1097 1169)"/><ellipse cx="1094" cy="1168" rx="9" ry="4.5" transform="rotate(125 1097 1169)"/><ellipse cx="1128" cy="931" rx="9" ry="4.5" transform="rotate(113 1134 929)"/><ellipse cx="828" cy="1219" rx="9" ry="4.5" transform="rotate(96 824 1219)"/><ellipse cx="670" cy="1089" rx="9" ry="4.5" transform="rotate(163 662 1095)"/><ellipse cx="933" cy="1120" rx="9" ry="4.5" transform="rotate(20 937 1128)"/><ellipse cx="509" cy="1162" rx="9" ry="4.5" transform="rotate(115 504 1155)"/><ellipse cx="275" cy="690" rx="9" ry="5" transform="rotate(7 275 690)"/><ellipse cx="300" cy="705" rx="9" ry="5" transform="rotate(74 300 705)"/><ellipse cx="330" cy="725" rx="9" ry="5" transform="rotate(109 330 725)"/><ellipse cx="380" cy="745" rx="9" ry="5" transform="rotate(139 380 745)"/><ellipse cx="410" cy="755" rx="9" ry="5" transform="rotate(135 410 755)"/><ellipse cx="440" cy="750" rx="9" ry="5" transform="rotate(33 440 750)"/><ellipse cx="475" cy="758" rx="9" ry="5" transform="rotate(25 475 758)"/><ellipse cx="510" cy="750" rx="9" ry="5" transform="rotate(156 510 750)"/><ellipse cx="540" cy="740" rx="9" ry="5" transform="rotate(73 540 740)"/><ellipse cx="585" cy="715" rx="9" ry="5" transform="rotate(106 585 715)"/><ellipse cx="620" cy="855" rx="9" ry="5" transform="rotate(5 620 855)"/><ellipse cx="625" cy="900" rx="9" ry="5" transform="rotate(151 625 900)"/><ellipse cx="630" cy="950" rx="9" ry="5" transform="rotate(62 630 950)"/><ellipse cx="628" cy="1000" rx="9" ry="5" transform="rotate(126 628 1000)"/><ellipse cx="625" cy="1050" rx="9" ry="5" transform="rotate(14 625 1050)"/><ellipse cx="630" cy="1085" rx="9" ry="5" transform="rotate(130 630 1085)"/><ellipse cx="680" cy="1105" rx="9" ry="5" transform="rotate(52 680 1105)"/><ellipse cx="710" cy="1112" rx="9" ry="5" transform="rotate(35 710 1112)"/><ellipse cx="750" cy="1120" rx="9" ry="5" transform="rotate(70 750 1120)"/><ellipse cx="790" cy="1150" rx="9" ry="5" transform="rotate(177 790 1150)"/><ellipse cx="830" cy="1185" rx="9" ry="5" transform="rotate(107 830 1185)"/><ellipse cx="870" cy="1215" rx="9" ry="5" transform="rotate(1 870 1215)"/><ellipse cx="340" cy="530" rx="9" ry="5" transform="rotate(10 340 530)"/><ellipse cx="350" cy="560" rx="9" ry="5" transform="rotate(144 350 560)"/><ellipse cx="320" cy="600" rx="9" ry="5" transform="rotate(87 320 600)"/></g>
<path d="M118 26C126 22 154 19 158 26C162 33 150 57 143 68C136 79 122 82 113 93C104 104 95 118 88 133C81 148 78 166 73 183C68 200 63 217 58 233C53 249 49 263 43 278C37 293 24 328 20 325C16 322 16 276 20 258C24 240 37 233 43 218C49 203 52 185 56 168C60 151 63 133 68 118C73 103 81 90 88 78C95 66 103 57 108 48C113 39 110 30 118 26Z" fill="#fbf6f8"/>
<path d="M772 26C790 70 800 120 798 150C797 170 794 180 794 188" fill="none" stroke="#fbf6f8" stroke-width="14" stroke-linecap="round"/>
<path d="M792 190C770 215 740 228 700 236" fill="none" stroke="#fbf6f8" stroke-width="5" stroke-linecap="round"/>
<path d="M796 189C830 198 860 212 878 228C896 250 902 285 909 315C914 350 922 378 940 405C958 430 985 455 1016 487" fill="none" stroke="#fbf6f8" stroke-width="17" stroke-linecap="round"/>
<path d="M1016 487C1022 510 1020 530 1034 552C1042 566 1050 575 1058 582" fill="none" stroke="#fbf6f8" stroke-width="7" stroke-linecap="round"/>
<path d="M20 1188L72 1194L68 1240H20Z" fill="#fbf6f8"/>
<path d="M628 1000L636 1050" stroke="#fbf6f8" stroke-width="7" stroke-linecap="round"/>
<path d="M772 1140L850 1198" stroke="#fbf6f8" stroke-width="6" stroke-linecap="round"/>
<path d="M560 285L585 272L580 290Z" fill="#fbf6f8"/>
</g>
<rect x="78.8" y="1241.2" width="61.1" height="6.4" fill="#000"/>
<text x="79.8" y="1235.7" font-family="Liberation Serif, serif" font-weight="400" font-size="23.5">50μm</text>
<g transform="translate(415 920) scale(0.27581)">
<rect x="27" y="33" width="1201" height="1199" fill="#f7f4f5"/>
<path d="M347 566L346 569L366 600L397 620L444 605L470 570L502 543L503 541L539 530L550 520L580 444L597 408L581 447L553 529L555 531L593 536L635 532L635 371L605 366L603 368L603 375L600 361L555 336L476 396L476 408L468 401L417 406L357 426L297 466L256 509L256 512L266 525L297 550L338 571L352 562ZM469 483L481 473L485 510L473 485L471 483L444 497ZM370 335L394 298L389 330L418 336L489 326L549 305L595 270L596 268L594 262L617 280L635 289L635 73L603 63L558 66L507 81L506 83L507 116L499 86L467 93L411 124L409 172L396 130L393 128L367 136L316 166L316 238L318 298L336 334L338 336ZM416 248L416 228L412 199L421 234L423 236L421 237ZM499 210L501 209L510 160L516 209L467 228L462 229ZM623 207L592 256L590 252ZM625 205L627 203L624 206ZM626 548L623 546L568 541L517 546L476 566L456 611L407 623L399 635L634 635L631 594L635 631L635 546L633 548L631 593ZM411 46L444 46L454 33L398 33ZM366 608L339 576L298 568L269 580L270 562L240 521L219 508L183 508L132 531L113 558L111 594L126 629L132 635L368 635ZM237 346L223 367L223 388L243 411L279 416L319 400L346 369L340 342L315 319L288 322L314 310L316 309L316 278L313 228L297 196L264 183L261 184L216 227L188 268L201 330L228 346L259 333ZM189 83L220 60L229 33L107 33L106 49L122 70L153 88ZM66 229L99 246L144 225L180 194L188 162L170 124L134 86L93 78L66 102L48 143L46 188ZM88 274L75 242L45 202L27 197L27 342L49 338L75 315ZM54 95L78 64L83 33L27 33L27 111ZM984 330L1010 353L1013 353L1039 324L1046 282L1045 288L1049 326L1051 328L1107 326L1127 320L1139 293L1134 313L1135 315L1166 328L1206 341L1228 334L1228 142L1167 116L1122 103L1094 127L1081 163L1089 205L1111 221L1166 213L1144 237L1144 278L1142 286L1144 253L1132 231L1096 228L1065 241L1057 249L1076 218L1069 182L1047 171L986 181L935 199L919 212L924 234L954 284ZM1095 446L1064 467L1061 494L1079 539L1104 594L1125 615L1127 616L1148 605L1169 569L1184 524L1180 517L1189 499L1209 444L1219 398L1213 372L1211 371L1180 381L1140 416L1124 432L1124 434ZM1138 415L1168 380L1186 349L1185 346L1147 328L1106 328L1046 333L1014 357L1024 399L1039 439L1060 465L1063 465L1098 440ZM885 180L909 181L911 179L921 159L920 129L924 155L946 163L1048 138L1066 119L1081 76L1076 52L1064 33L959 33L924 72L920 110L919 82L897 68L857 61L816 63L782 79L781 81L789 100L815 127L850 160ZM955 624L944 635L1031 635L1029 617L1019 587L1017 586L1000 591ZM749 419L766 426L807 421L809 419L825 430L849 469L875 502L906 508L867 516L869 510L854 477L828 437L807 423L757 432L756 459L769 499L784 539L786 541L784 542L779 564L798 635L896 635L889 612L869 572L853 546L822 546L853 543L863 523L859 544L874 569L894 609L909 635L933 635L948 625L988 590L1013 574L1014 572L999 537L978 491L941 496L912 506L937 495L968 485L969 482L959 452L898 362L868 336L865 336L869 332L869 330L843 287L798 236L777 226L774 227L759 252L739 297L719 363L734 389ZM851 58L918 70L944 33L750 33L759 60L781 71L812 61ZM665 141L639 174L634 180L634 294L687 303L689 302L735 224L738 183L721 159L680 123L677 124L666 139L678 117L678 114L653 90L634 82L634 179ZM689 532L686 531L651 541L634 541L634 635L716 635L714 618L701 568ZM689 499L684 442L658 397L634 365L634 539L647 541L678 530ZM304 696L340 673L365 643L367 634L240 634L236 651L244 683L267 701ZM376 652L378 654L413 646L447 659L498 689L548 684L594 674L628 654L630 655L592 679L591 681L611 728L631 763L635 764L635 634L371 634ZM628 966L581 1116L568 1166L560 1232L635 1232L635 911ZM336 806L336 827L337 829L367 846L418 854L469 851L514 834L516 832L517 834L548 846L593 844L635 834L635 785L628 775L608 730L585 689L548 686L502 694L501 696L499 708L495 689L444 659L413 649L382 659L361 695L361 698L342 694L297 722L261 760L261 763L272 778L327 816L330 816ZM340 798L354 784L336 805ZM380 737L387 744L448 754L489 749L497 729L496 737L508 782L515 828L508 786L495 752L448 756L388 746L372 764ZM467 994L517 1014L553 1021L555 1021L570 987L583 942L578 910L549 894L499 886L457 892L436 910L427 942L436 973ZM487 1184L490 1183L500 1167L516 1117L523 1067L526 1036L524 1034L469 1021L432 1017L411 1030L396 1056L386 1096L391 1132L447 1161ZM501 1216L487 1187L449 1164L392 1137L389 1137L381 1156L371 1191L367 1232L502 1232ZM370 1028L390 997L396 960L384 944L349 936L317 947L316 949L321 982L336 1017L351 1043L355 1043ZM216 878L253 884L299 874L327 864L328 861L320 830L290 794L252 772L250 772L231 790L206 825L196 851L196 853ZM117 1084L106 1106L102 1136L112 1168L142 1184L183 1194L233 1189L235 1188L237 1191L277 1209L280 1208L290 1192L305 1157L318 1121L309 1089L312 1088L313 1086L300 1055L275 1005L255 969L218 954L168 956L136 974L121 1007L123 1047L141 1077ZM217 1106L216 1109L214 1107L189 1096ZM220 657L231 634L133 634L142 643L182 664L210 671L213 670ZM106 878L135 899L153 890L171 827L191 777L193 746L159 722L114 709L68 711L52 731L51 767L71 827ZM1138 852L1150 881L1181 886L1228 863L1228 686L1206 679L1176 687L1157 710L1144 751L1136 806ZM1145 1071L1162 1072L1133 1079L1131 1081L1129 1117L1134 1157L1144 1193L1166 1214L1197 1209L1228 1197L1228 1109L1218 1095L1198 1077L1177 1073L1192 1074L1224 1057L1228 1029L1228 995L1226 976L1214 945L1193 910L1167 901L1130 915L1124 946L1121 991L1124 1047ZM1218 874L1216 876L1211 901L1214 937L1228 955L1228 871ZM966 1194L934 1205L935 1232L1080 1232L1079 1215L1062 1194L1031 1196ZM843 1144L817 1134L814 1136L814 1191L816 1232L915 1232L909 1210L901 1202L928 1188L943 1158L945 1168L975 1189L1026 1194L1068 1183L1074 1162L1059 1115L1032 1094L966 1091L940 1110L938 1100L917 1081L856 1101L820 1109L819 1113L854 1156ZM1010 871L1012 871L1043 863L1054 827L1058 766L1054 691L1044 641L1042 639L1040 640L1019 660L994 705L964 750L954 771L994 852ZM876 954L879 952L894 978L920 1003L922 1004L943 993L968 958L975 945L969 960L945 992L919 1015L918 1010L898 985L873 957L816 954L815 955L806 997L811 1052L825 1103L827 1104L852 1099L897 1084L923 1068L924 1082L926 1084L966 1089L1006 1091L1042 1089L1043 1088L1046 1046L1044 996L1038 925L1017 914L988 919L989 915L969 875L942 839L940 839L918 862L938 838L939 836L918 805L898 789L841 799L798 789L779 826L784 867L804 917L820 949ZM968 743L991 705L1014 657L1019 634L928 634L914 645L906 682L924 743L946 761ZM808 697L806 699L812 730L825 744L876 746L912 739L914 737L901 670L898 669L867 676L898 663L893 634L795 634L804 667L814 692L816 694ZM638 999L634 998L634 1173L648 1168L668 1153L670 1141L669 1156L670 1158L704 1173L696 1174L651 1169L634 1175L634 1232L763 1232L759 1191L749 1170L746 1169L731 1170L743 1168L761 1142L764 1096L759 1050L756 1049L717 1051L682 1044L679 1045L675 1034L680 1039L716 1049L754 1049L756 1047L761 1016L756 966L739 905L717 854L696 846L665 864L639 900L634 915L634 985ZM706 811L709 810L726 767L731 717L722 634L634 634L634 766L645 773L675 803ZM647 829L668 813L669 811L643 784L634 783L634 833Z" fill="#f2b4d7"/>
<path d="M27 106L52 92L73 64L79 33L27 33ZM110 46L111 49L124 67L152 83L155 84L189 78L216 58L224 33L111 33ZM412 41L415 43L441 42L444 40L449 33L404 33ZM95 83L92 84L69 104L53 143L50 187L69 227L98 241L142 222L175 193L177 191L184 164L167 126L133 90ZM27 338L49 333L72 312L84 273L72 244L44 206L41 204L27 201ZM266 188L261 190L219 229L193 269L204 326L207 328L227 341L231 340L278 322L309 308L311 305L312 278L309 228L294 200ZM240 349L227 369L227 386L228 389L243 405L246 407L278 411L316 397L341 367L336 344L315 324L312 323L279 327ZM321 168L320 172L320 238L322 298L339 330L342 332L366 331L369 329L389 297L412 257L412 228L404 168L394 137L392 135L389 134L369 140ZM416 126L414 130L412 183L424 229L429 231L457 227L496 207L497 204L509 143L498 95L497 93L492 91L468 97ZM426 239L423 242L400 289L393 322L394 326L397 328L418 332L488 322L548 302L588 270L590 266L586 253L558 220L520 212L517 213L469 232ZM513 83L510 88L512 140L519 204L523 207L559 214L584 243L587 245L590 244L622 202L635 187L635 77L602 67L558 70ZM627 209L598 254L597 257L599 261L618 276L635 285L635 199ZM263 508L262 513L269 522L298 546L335 565L340 565L367 547L417 507L467 480L480 469L481 465L476 414L469 406L466 405L419 410L359 429L299 469ZM481 398L480 402L485 468L490 517L501 533L505 535L537 527L547 517L577 443L601 389L597 366L595 363L559 342L555 341ZM613 371L610 372L607 375L607 394L584 449L560 521L560 525L563 528L593 532L635 528L635 375ZM353 566L352 569L353 572L369 597L396 615L400 616L442 602L467 567L495 543L497 538L484 519L472 492L469 490L466 490L419 514ZM459 614L411 627L408 628L404 635L630 635L627 593L622 552L618 549L568 545L518 550L479 570ZM635 593L635 596L635 587ZM134 534L117 559L115 592L130 628L138 635L240 635L247 617L264 583L266 565L265 562L237 524L217 512L184 512ZM270 584L250 619L245 635L364 635L361 608L337 580L298 572ZM634 173L663 137L672 117L671 113L651 94L634 87ZM683 131L679 131L676 132L643 176L634 186L634 290L683 298L688 296L730 223L734 185L733 182L718 162ZM762 55L764 58L782 66L811 57L851 54L914 66L918 63L939 33L754 33ZM790 80L788 82L788 85L793 98L818 125L852 157L887 176L905 177L909 175L917 157L915 87L913 83L895 72L856 65L817 67ZM928 73L923 118L927 149L930 153L946 159L1046 134L1063 117L1077 75L1072 54L1059 33L965 33ZM1124 108L1120 109L1098 129L1086 162L1092 200L1094 203L1110 216L1113 216L1228 200L1228 146L1166 120ZM937 202L926 211L924 214L928 233L958 282L987 327L1008 345L1013 346L1035 322L1040 288L1050 253L1072 218L1065 185L1063 183L1048 175L1044 175L987 185ZM1067 244L1054 258L1053 261L1049 288L1052 319L1053 322L1058 324L1106 322L1125 317L1137 287L1140 254L1131 236L1128 234L1097 232ZM1168 217L1148 239L1148 278L1140 308L1140 312L1143 314L1167 324L1205 336L1228 329L1228 208ZM1020 357L1019 362L1028 397L1042 437L1059 457L1063 459L1066 458L1096 437L1136 412L1165 377L1179 354L1179 351L1177 346L1146 332L1107 332L1047 337ZM1131 430L1130 434L1130 437L1171 506L1174 509L1179 508L1185 497L1205 442L1215 399L1211 379L1208 377L1205 377L1182 385L1143 419ZM1069 468L1068 472L1066 493L1083 538L1108 592L1124 609L1130 610L1145 601L1165 568L1179 526L1179 522L1145 474L1128 442L1126 440L1122 439L1097 449ZM780 232L777 232L775 234L763 254L743 298L724 362L724 365L738 388L752 416L767 421L802 417L805 416L825 377L862 333L863 330L863 327L840 289L796 240ZM869 343L866 342L863 344L833 379L815 414L816 419L828 427L853 467L878 499L907 504L936 492L961 483L963 481L963 477L955 453L895 364ZM764 434L761 436L760 439L760 458L773 498L787 535L791 537L821 542L847 539L850 538L864 513L864 509L850 479L826 440L805 427ZM870 519L867 523L864 544L878 568L898 607L913 635L926 635L946 622L985 587L1005 575L1008 572L1008 568L995 539L977 499L974 496L942 500L907 512ZM791 545L787 549L783 563L802 635L892 635L885 613L865 574L851 551L847 550L821 550ZM1025 619L1017 594L1014 592L1011 592L1001 595L958 626L950 635L1027 635ZM645 536L675 527L685 497L680 443L655 399L634 372L634 535ZM710 619L697 569L686 538L681 536L652 545L634 545L634 635L712 635ZM143 639L184 660L208 666L211 664L217 656L226 634L138 634ZM240 650L247 681L267 696L271 697L303 692L336 671L361 641L363 634L244 634ZM70 715L67 717L56 732L55 766L74 825L109 875L134 893L138 893L148 889L150 886L167 826L187 776L188 748L186 745L157 725L114 713ZM254 778L248 778L234 792L210 827L201 849L202 854L219 875L253 880L297 870L321 861L323 856L316 831L287 798ZM267 759L267 764L275 776L323 808L327 809L330 807L337 795L367 766L376 733L362 704L360 702L343 699L299 725ZM366 695L366 699L379 730L388 739L447 750L486 744L488 742L496 717L492 695L490 691L442 663L414 653L384 663ZM340 806L340 822L341 826L368 842L418 850L468 847L508 832L511 828L504 787L493 759L489 756L448 760L389 751ZM507 697L504 701L500 736L512 781L519 827L520 830L549 842L593 840L635 830L635 791L624 777L604 732L583 694L579 693L548 690ZM378 644L380 647L383 649L414 643L449 655L500 685L548 680L592 670L628 650L635 653L635 634L375 634ZM598 680L597 683L597 686L614 725L635 760L635 659L630 660ZM459 895L440 912L431 940L431 943L440 970L469 990L518 1010L548 1016L552 1015L567 986L579 942L574 912L547 898L498 890ZM323 949L321 951L320 954L325 982L340 1016L350 1034L353 1035L357 1035L367 1025L386 996L392 961L381 948L350 941ZM140 977L125 1008L127 1046L145 1075L219 1102L302 1087L305 1084L306 1080L297 1057L272 1007L251 972L217 958L169 960ZM120 1087L118 1090L110 1107L106 1136L115 1165L144 1180L183 1190L225 1186L228 1184L230 1179L213 1113L211 1110L144 1081ZM225 1109L222 1112L221 1115L239 1187L242 1189L273 1203L278 1202L287 1190L302 1156L314 1122L308 1097L305 1095L302 1094ZM415 1032L399 1057L390 1095L395 1129L397 1132L449 1157L483 1177L488 1177L497 1165L512 1116L519 1066L521 1039L517 1036L468 1025L435 1021L432 1021ZM396 1143L392 1143L389 1146L384 1157L375 1191L371 1232L498 1232L496 1216L484 1190L447 1168ZM632 966L585 1117L572 1167L564 1232L635 1232L635 944ZM647 770L677 800L701 806L704 806L707 803L722 766L727 717L718 634L634 634L634 761ZM645 825L659 815L661 812L661 809L641 789L634 787L634 828ZM808 666L815 685L820 688L866 672L890 662L893 660L894 657L889 634L799 634ZM814 699L811 704L815 728L827 740L876 742L905 736L908 733L909 730L899 679L895 675L892 675L857 683ZM919 647L911 683L928 740L943 754L948 755L965 740L987 703L1010 656L1015 634L935 634ZM959 769L959 774L997 850L1010 865L1015 866L1039 860L1041 857L1050 826L1054 766L1050 692L1042 654L1040 651L1037 650L1034 651L1022 663L998 707L968 752ZM643 902L634 926L634 970L643 1001L683 1035L717 1045L748 1045L751 1044L753 1040L757 1016L752 967L735 907L715 858L696 851L668 867ZM645 1165L663 1152L665 1149L677 1052L669 1032L634 1002L634 1168ZM688 1049L684 1051L682 1054L674 1154L677 1157L707 1170L740 1165L757 1140L760 1096L755 1057L753 1054L750 1053L716 1055ZM755 1193L747 1176L743 1173L696 1178L650 1173L634 1179L634 1232L759 1232ZM803 794L798 797L783 828L788 866L808 916L821 942L823 945L874 949L877 946L887 926L900 876L932 839L933 834L915 808L896 794L841 803ZM908 877L884 951L898 975L919 997L923 998L941 989L965 956L983 919L984 916L965 877L943 847L940 847L937 848ZM990 922L986 926L972 962L947 995L924 1017L928 1077L932 1080L967 1085L1006 1087L1036 1085L1039 1084L1040 1081L1042 1046L1035 929L1033 926L1016 918ZM821 958L819 959L817 962L810 997L815 1051L827 1097L832 1099L851 1095L895 1080L918 1067L919 1062L915 1013L895 987L870 961ZM832 1111L829 1114L830 1119L895 1197L900 1198L926 1184L940 1155L935 1103L918 1087L914 1086L857 1105ZM945 1111L943 1115L948 1164L950 1167L976 1184L1026 1190L1062 1181L1065 1178L1070 1161L1055 1118L1031 1098L968 1096ZM824 1141L820 1142L818 1146L818 1191L820 1232L911 1232L904 1211L841 1148ZM941 1207L938 1211L939 1232L1076 1232L1074 1217L1062 1200L1059 1198L1031 1200L967 1198ZM1178 690L1160 713L1148 752L1140 807L1142 851L1152 875L1155 878L1181 882L1228 859L1228 690L1206 683ZM1135 917L1132 920L1128 946L1125 991L1128 1045L1148 1067L1192 1069L1217 1057L1220 1054L1226 1016L1222 976L1210 947L1190 913L1166 906ZM1138 1082L1135 1086L1133 1117L1138 1156L1148 1191L1165 1208L1169 1209L1196 1205L1228 1193L1228 1117L1215 1098L1194 1080L1166 1076ZM1222 877L1220 880L1215 901L1218 934L1225 945L1228 947L1228 875Z" fill="#e962a6"/>
<path d="M32 70Q34 82 37 92M188 53Q178 67 176 72M183 47Q168 66 160 77M135 155Q145 172 155 189M139 136Q151 159 169 176M67 197Q74 206 81 215M81 141Q96 154 110 167M151 123Q162 134 167 150M51 185Q60 197 65 212M95 177Q114 192 124 215M85 166Q95 181 109 193M54 226Q47 254 47 274M35 219Q38 232 39 247M63 283Q65 291 61 304M262 233Q258 250 256 265M306 271Q304 283 305 293M250 276Q254 289 249 312M245 271Q234 296 226 316M304 229Q301 242 297 256M277 261Q265 285 260 303M262 276Q251 300 241 323M306 326Q314 334 314 349M296 336Q297 359 308 371M259 348Q255 361 254 372M276 350Q284 370 283 399M326 212Q335 234 341 258M386 152Q387 167 396 175M369 161Q378 170 382 186M362 165Q371 179 371 201M352 197Q357 212 364 225M336 182Q344 189 343 205M369 196Q379 207 388 216M378 157Q380 179 384 199M417 127Q423 140 425 157M451 149Q446 167 448 178M448 148Q450 168 455 184M440 190Q437 205 438 216M462 103Q461 122 465 137M453 163Q456 183 457 203M442 293Q439 308 443 316M506 245Q505 263 512 274M481 229Q494 243 501 264M532 257Q534 273 536 290M446 256Q449 263 445 278M438 272Q435 294 439 307M571 236Q570 250 575 257M509 232Q513 251 514 272M421 252Q416 274 419 288M565 135Q578 146 584 165M532 82Q544 104 555 127M514 139Q531 157 541 182M616 145Q622 154 628 162M561 110Q564 123 571 132M547 117Q547 132 545 150M547 131Q551 147 563 155M603 96Q612 120 626 140M574 85Q578 97 573 117M612 155Q612 179 611 204M621 243Q612 252 604 260M361 446Q370 455 370 474M312 497Q318 511 326 524M343 476Q348 493 362 502M302 492Q313 511 332 522M367 486Q378 498 387 511M302 493Q314 517 334 531M322 457Q339 470 350 488M422 473Q422 488 426 499M438 429Q440 444 446 455M336 493Q352 513 371 530M398 453Q404 469 417 479M503 387Q504 411 507 434M486 417Q483 436 486 449M520 506Q527 512 528 525M505 467Q507 485 518 494M518 388Q515 407 521 419M496 476Q499 492 512 499M546 379Q552 400 548 430M561 415Q567 427 571 441M630 467Q621 480 617 488M604 409Q600 433 600 453M589 485Q573 505 565 517M608 483Q591 507 582 522M450 524Q450 538 460 543M416 519Q419 545 428 563M421 558Q434 567 438 586M447 532Q453 539 451 553M444 523Q445 540 446 555M485 573Q490 600 502 620M484 591Q489 615 498 634M537 592Q543 600 545 613M595 581Q606 601 615 624M620 606Q627 615 627 631M547 592Q555 605 564 618M583 599Q593 617 608 631M570 577Q582 594 601 604M216 598Q215 607 212 619M172 593Q161 610 145 630M154 596Q146 616 142 633M156 546Q152 557 145 570M167 540Q155 555 147 565M198 561Q181 579 169 591M176 546Q168 562 167 569M158 564Q150 588 141 612M301 586Q296 594 289 604M315 591Q304 609 300 621M345 600Q337 620 336 633M654 100Q650 109 645 119M693 213Q688 235 690 250M701 223Q698 239 695 256M683 205Q686 217 681 237M648 229Q640 243 636 252M712 223Q700 248 691 268M703 172Q699 189 685 216M720 203Q713 225 716 238M876 36Q863 47 855 53M818 34Q807 44 800 50M882 110Q880 129 875 150M816 73Q815 87 819 97M865 122Q863 140 869 150M894 85Q892 109 888 137M883 95Q891 115 894 139M1044 78Q1026 95 1011 109M1035 60Q1020 77 1012 87M948 95Q936 104 924 113M984 87Q972 111 968 125M983 97Q965 113 954 122M999 120Q993 131 986 143M1071 84Q1062 102 1053 120M1010 92Q998 101 982 114M1164 177Q1173 186 1178 198M1148 125Q1161 135 1165 155M1095 164Q1100 179 1103 194M1107 152Q1117 159 1122 171M1136 153Q1141 169 1149 183M1155 149Q1166 170 1177 193M1035 197Q1035 205 1030 217M1026 229Q1033 249 1031 279M982 257Q975 277 975 290M1045 217Q1041 238 1038 257M1012 215Q1010 223 1003 235M1054 214Q1050 228 1038 250M1019 212Q1012 229 1007 244M1032 255Q1023 280 1018 301M1086 263Q1083 291 1089 309M1129 253Q1135 261 1135 275M1055 279Q1068 300 1079 323M1104 263Q1113 272 1117 287M1178 271Q1178 287 1185 296M1199 236Q1202 255 1204 274M1185 236Q1188 257 1200 269M1191 265Q1188 291 1188 316M1214 279Q1205 304 1204 319M1040 381Q1035 397 1037 406M1098 353Q1093 374 1085 397M1047 350Q1042 360 1037 370M1048 344Q1040 370 1039 390M1099 348Q1102 368 1097 397M1097 354Q1094 370 1094 383M1070 436Q1063 448 1060 456M1175 427Q1177 440 1171 461M1152 414Q1152 427 1156 435M1184 447Q1182 465 1190 473M1106 531Q1107 541 1109 551M1120 508Q1117 532 1124 545M1122 509Q1135 525 1140 548M1120 475Q1119 491 1125 499M1132 574Q1135 584 1134 599M1109 565Q1118 578 1117 601M758 296Q755 312 752 328M807 375Q808 389 816 394M774 253Q776 259 770 274M788 305Q786 328 782 353M755 351Q761 372 768 392M772 386Q778 398 777 416M800 331Q801 347 801 362M763 379Q766 387 761 402M819 299Q822 310 824 322M855 384Q859 398 860 415M872 372Q871 391 870 409M864 357Q875 375 877 402M907 390Q906 414 907 436M879 424Q886 450 899 470M880 385Q878 406 875 429M914 452Q916 464 920 474M786 468Q787 489 794 503M831 482Q827 495 820 511M821 491Q822 503 821 517M794 484Q789 501 782 519M880 550Q880 572 888 585M890 572Q890 584 892 593M962 570Q960 591 960 609M892 539Q887 549 884 558M916 518Q917 541 916 566M920 545Q917 563 918 576M931 593Q928 609 931 620M845 554Q850 568 847 590M860 585Q857 611 861 630M815 602Q818 615 814 635M842 583Q838 597 826 620M992 608Q1004 619 1012 632M644 397Q651 414 654 435M656 455Q651 475 653 489M676 443Q672 462 667 482M641 549Q635 563 634 572M663 587Q661 614 667 633M640 588Q643 601 637 622M218 635Q213 648 212 656M280 655Q281 673 279 692M304 651Q308 660 305 678M313 650Q302 670 297 684M138 721Q145 744 149 770M173 756Q176 772 180 787M101 826Q111 838 118 853M113 751Q123 770 137 784M108 714Q111 736 121 752M138 808Q141 828 148 843M81 792Q93 814 111 831M101 795Q110 812 126 821M148 771Q156 776 154 791M262 802Q256 816 248 833M283 796Q282 826 289 848M238 795Q232 815 235 827M305 826Q308 832 303 846M307 747Q301 758 299 765M323 739Q325 757 332 771M317 733Q320 750 318 772M303 741Q299 759 299 774M422 659Q424 672 424 686M411 713Q415 727 426 735M470 691Q474 699 474 711M468 693Q473 703 473 717M425 688Q429 703 441 709M428 772Q412 797 403 813M378 776Q370 792 356 814M462 807Q461 822 459 837M452 806Q449 823 452 833M398 780Q398 789 395 801M375 797Q376 816 377 834M378 764Q377 776 369 793M603 782Q602 809 604 831M576 696Q575 709 581 715M539 701Q539 718 541 732M591 739Q594 763 605 780M559 780Q551 800 553 813M599 786Q594 806 597 818M531 693Q533 709 539 720M573 726Q568 744 573 754M528 694Q535 702 536 716M572 645Q574 661 579 673M490 643Q499 654 508 667M473 650Q482 660 489 673M531 643Q549 655 559 675M621 715Q625 728 626 743M493 893Q479 911 472 923M541 897Q538 914 540 927M576 926Q568 944 555 968M518 953Q512 976 509 996M573 944Q564 959 560 970M558 919Q544 942 533 962M568 941Q564 953 551 974M454 923Q451 933 447 944M376 953Q377 968 387 974M347 997Q358 1008 359 1029M165 1015Q171 1033 168 1061M228 1047Q233 1058 231 1074M172 987Q169 1016 175 1037M146 989Q147 1013 144 1039M247 974Q244 995 241 1014M266 1043Q271 1063 271 1087M259 1036Q258 1047 259 1057M279 1029Q277 1050 274 1072M239 1024Q235 1043 239 1055M255 1041Q261 1055 263 1074M221 978Q222 993 221 1010M204 1115Q204 1141 210 1160M195 1128Q201 1134 197 1149M148 1145Q160 1168 178 1184M192 1162Q199 1171 198 1187M178 1149Q193 1167 207 1187M302 1107Q304 1117 309 1125M262 1144Q272 1157 283 1170M240 1127Q255 1146 262 1173M266 1139Q275 1159 281 1182M448 1107Q447 1129 451 1145M492 1101Q482 1130 481 1151M457 1116Q462 1123 459 1138M429 1079Q426 1101 428 1117M428 1058Q419 1080 407 1105M469 1053Q474 1064 473 1081M472 1117Q475 1136 471 1161M420 1063Q416 1079 422 1086M415 1165Q418 1190 420 1216M393 1144Q396 1171 403 1192M465 1184Q456 1207 451 1225M454 1175Q450 1201 454 1217M618 1068Q610 1091 602 1114M631 1001Q625 1020 625 1033M634 1173Q632 1199 634 1221M597 1174Q594 1189 600 1196M631 1198Q627 1217 629 1229M587 1141Q592 1155 593 1172M663 754Q667 768 676 777M663 678Q674 693 676 716M697 639Q697 653 704 661M649 700Q654 711 662 720M682 663Q680 678 684 688M645 735Q658 743 662 761M677 655Q679 665 681 675M652 701Q652 723 660 739M834 649Q837 657 832 671M823 646Q815 662 812 673M880 701Q889 717 900 730M828 701Q841 708 846 724M937 714Q940 729 951 736M933 695Q941 715 951 734M951 681Q963 698 974 716M957 671Q968 688 981 702M1050 751Q1054 765 1053 784M997 787Q993 805 991 819M1006 733Q1002 750 1000 763M1038 696Q1033 716 1024 740M1036 724Q1031 737 1030 747M1014 681Q1014 692 1008 708M1042 806Q1040 824 1047 834M668 939Q675 953 683 965M724 979Q729 995 739 1006M706 909Q722 923 733 943M707 989Q717 1011 735 1025M708 951Q717 960 724 970M639 963Q647 975 656 985M696 982Q697 994 703 1001M662 956Q674 971 678 994M669 981Q669 995 677 1001M638 938Q644 947 642 963M657 1026Q665 1037 669 1053M665 1047Q672 1060 669 1081M637 1056Q633 1072 639 1079M739 1093Q735 1110 723 1133M731 1086Q729 1095 720 1111M746 1071Q735 1092 723 1114M715 1067Q709 1074 698 1086M722 1056Q712 1070 693 1091M726 1182Q735 1193 744 1204M645 1206Q655 1218 666 1228M671 1182Q676 1199 689 1208M741 1204Q748 1215 748 1231M796 826Q805 842 815 856M822 810Q825 835 836 851M826 876Q842 886 851 902M870 827Q880 841 888 857M806 855Q818 874 823 902M875 866Q877 887 888 898M858 898Q861 909 863 921M785 826Q788 854 799 875M824 904Q835 928 855 942M897 922Q895 933 893 944M909 905Q902 920 902 929M951 871Q940 887 937 894M971 918Q960 931 953 939M943 895Q937 912 936 924M965 977Q965 992 966 1007M937 1006Q939 1019 943 1029M1020 1029Q1021 1050 1026 1067M982 980Q982 1001 987 1016M1013 954Q1012 973 1009 996M970 1043Q981 1057 987 1076M980 983Q984 1000 980 1026M998 924Q992 950 996 965M887 999Q882 1017 881 1029M872 1014Q880 1035 882 1061M827 988Q822 1006 824 1015M855 1025Q853 1050 858 1068M848 1043Q842 1060 845 1068M830 983Q828 1012 834 1033M902 1094Q905 1107 912 1118M898 1129Q908 1145 908 1171M883 1112Q896 1131 905 1157M920 1106Q921 1135 929 1156M993 1132Q985 1148 968 1173M1008 1127Q1010 1135 1006 1148M1007 1133Q1004 1145 1001 1158M968 1101Q967 1111 962 1126M1036 1134Q1029 1155 1030 1167M839 1173Q841 1189 833 1214M849 1172Q832 1196 820 1215M861 1174Q856 1191 854 1205M1029 1202Q1032 1216 1042 1224M1047 1202Q1046 1215 1045 1229M1165 838Q1164 850 1167 859M1204 805Q1200 829 1196 852M1182 751Q1180 766 1170 789M1167 826Q1169 839 1167 857M1203 709Q1209 716 1207 732M1222 728Q1226 739 1227 753M1205 742Q1200 756 1201 764M1149 822Q1151 841 1158 857M1210 1016Q1200 1030 1198 1037M1191 935Q1186 940 1175 952M1167 969Q1146 987 1132 997M1191 968Q1182 991 1175 1013M1170 962Q1144 983 1129 994M1159 948Q1148 961 1137 972M1171 929Q1159 945 1147 961M1168 965Q1151 988 1144 1000M1188 1079Q1194 1094 1192 1118M1218 1157Q1213 1171 1213 1179M1159 1105Q1166 1125 1173 1145M1139 1096Q1143 1115 1149 1132M1209 1138Q1216 1153 1218 1175M1188 1148Q1197 1167 1196 1195" fill="none" stroke="#f3a2d0" stroke-width="2" stroke-linecap="round" opacity=".85"/>
<g fill="#553890"><ellipse cx="153" cy="85" rx="7.5" ry="4.2" transform="rotate(202 153 85)"/><ellipse cx="442" cy="43" rx="7.5" ry="4.2" transform="rotate(110 442 43)"/><ellipse cx="185" cy="163" rx="7.5" ry="4.2" transform="rotate(91 185 163)"/><ellipse cx="98" cy="242" rx="7.5" ry="4.2" transform="rotate(190 98 242)"/><ellipse cx="312" cy="278" rx="7.5" ry="4.2" transform="rotate(100 312 278)"/><ellipse cx="278" cy="322" rx="7.5" ry="4.2" transform="rotate(158 278 322)"/><ellipse cx="227" cy="388" rx="7.5" ry="4.2" transform="rotate(251 227 388)"/><ellipse cx="390" cy="297" rx="7.5" ry="4.2" transform="rotate(158 390 297)"/><ellipse cx="405" cy="169" rx="7.5" ry="4.2" transform="rotate(34 405 169)"/><ellipse cx="424" cy="232" rx="7.5" ry="4.2" transform="rotate(207 424 232)"/><ellipse cx="497" cy="207" rx="7.5" ry="4.2" transform="rotate(140 497 207)"/><ellipse cx="557" cy="219" rx="7.5" ry="4.2" transform="rotate(52 557 219)"/><ellipse cx="488" cy="322" rx="7.5" ry="4.2" transform="rotate(180 488 322)"/><ellipse cx="558" cy="69" rx="7.5" ry="4.2" transform="rotate(-12 558 69)"/><ellipse cx="509" cy="84" rx="7.5" ry="4.2" transform="rotate(-47 509 84)"/><ellipse cx="626" cy="209" rx="7.5" ry="4.2" transform="rotate(6 626 209)"/><ellipse cx="259" cy="510" rx="7.5" ry="4.2" transform="rotate(256 259 510)"/><ellipse cx="299" cy="468" rx="7.5" ry="4.2" transform="rotate(-81 299 468)"/><ellipse cx="484" cy="468" rx="7.5" ry="4.2" transform="rotate(236 484 468)"/><ellipse cx="597" cy="364" rx="7.5" ry="4.2" transform="rotate(42 597 364)"/><ellipse cx="470" cy="486" rx="7.5" ry="4.2" transform="rotate(32 470 486)"/><ellipse cx="443" cy="602" rx="7.5" ry="4.2" transform="rotate(160 443 602)"/><ellipse cx="627" cy="593" rx="7.5" ry="4.2" transform="rotate(88 627 593)"/><ellipse cx="479" cy="569" rx="7.5" ry="4.2" transform="rotate(-67 479 569)"/><ellipse cx="267" cy="563" rx="7.5" ry="4.2" transform="rotate(80 267 563)"/><ellipse cx="114" cy="593" rx="7.5" ry="4.2" transform="rotate(258 114 593)"/><ellipse cx="674" cy="116" rx="7.5" ry="4.2" transform="rotate(71 674 116)"/><ellipse cx="679" cy="127" rx="7.5" ry="4.2" transform="rotate(-0 679 127)"/><ellipse cx="782" cy="68" rx="7.5" ry="4.2" transform="rotate(251 782 68)"/><ellipse cx="792" cy="98" rx="7.5" ry="4.2" transform="rotate(-78 792 98)"/><ellipse cx="916" cy="84" rx="7.5" ry="4.2" transform="rotate(60 916 84)"/><ellipse cx="1073" cy="54" rx="7.5" ry="4.2" transform="rotate(64 1073 54)"/><ellipse cx="996" cy="147" rx="7.5" ry="4.2" transform="rotate(180 996 147)"/><ellipse cx="1166" cy="119" rx="7.5" ry="4.2" transform="rotate(15 1166 119)"/><ellipse cx="1092" cy="203" rx="7.5" ry="4.2" transform="rotate(239 1092 203)"/><ellipse cx="937" cy="201" rx="7.5" ry="4.2" transform="rotate(-55 937 201)"/><ellipse cx="1050" cy="253" rx="7.5" ry="4.2" transform="rotate(97 1050 253)"/><ellipse cx="1106" cy="322" rx="7.5" ry="4.2" transform="rotate(165 1106 322)"/><ellipse cx="1147" cy="239" rx="7.5" ry="4.2" transform="rotate(-51 1147 239)"/><ellipse cx="1027" cy="398" rx="7.5" ry="4.2" transform="rotate(257 1027 398)"/><ellipse cx="1017" cy="358" rx="7.5" ry="4.2" transform="rotate(-72 1017 358)"/><ellipse cx="1127" cy="433" rx="7.5" ry="4.2" transform="rotate(-85 1127 433)"/><ellipse cx="1166" cy="567" rx="7.5" ry="4.2" transform="rotate(136 1166 567)"/><ellipse cx="1065" cy="494" rx="7.5" ry="4.2" transform="rotate(-64 1065 494)"/><ellipse cx="796" cy="239" rx="7.5" ry="4.2" transform="rotate(5 796 239)"/><ellipse cx="767" cy="422" rx="7.5" ry="4.2" transform="rotate(194 767 422)"/><ellipse cx="896" cy="364" rx="7.5" ry="4.2" transform="rotate(8 896 364)"/><ellipse cx="966" cy="483" rx="7.5" ry="4.2" transform="rotate(124 966 483)"/><ellipse cx="821" cy="542" rx="7.5" ry="4.2" transform="rotate(168 821 542)"/><ellipse cx="986" cy="588" rx="7.5" ry="4.2" transform="rotate(120 986 588)"/><ellipse cx="862" cy="543" rx="7.5" ry="4.2" transform="rotate(-78 862 543)"/><ellipse cx="851" cy="549" rx="7.5" ry="4.2" transform="rotate(22 851 549)"/><ellipse cx="681" cy="444" rx="7.5" ry="4.2" transform="rotate(48 681 444)"/><ellipse cx="652" cy="544" rx="7.5" ry="4.2" transform="rotate(-20 652 544)"/><ellipse cx="144" cy="641" rx="7.5" ry="4.2" transform="rotate(-84 144 641)"/><ellipse cx="362" cy="642" rx="7.5" ry="4.2" transform="rotate(75 362 642)"/><ellipse cx="150" cy="888" rx="7.5" ry="4.2" transform="rotate(163 150 888)"/><ellipse cx="54" cy="767" rx="7.5" ry="4.2" transform="rotate(-71 54 767)"/><ellipse cx="325" cy="861" rx="7.5" ry="4.2" transform="rotate(112 325 861)"/><ellipse cx="377" cy="734" rx="7.5" ry="4.2" transform="rotate(71 377 734)"/><ellipse cx="443" cy="662" rx="7.5" ry="4.2" transform="rotate(16 443 662)"/><ellipse cx="492" cy="692" rx="7.5" ry="4.2" transform="rotate(78 492 692)"/><ellipse cx="448" cy="760" rx="7.5" ry="4.2" transform="rotate(24 448 760)"/><ellipse cx="389" cy="750" rx="7.5" ry="4.2" transform="rotate(-36 389 750)"/><ellipse cx="499" cy="737" rx="7.5" ry="4.2" transform="rotate(-63 499 737)"/><ellipse cx="519" cy="831" rx="7.5" ry="4.2" transform="rotate(216 519 831)"/><ellipse cx="594" cy="682" rx="7.5" ry="4.2" transform="rotate(-55 594 682)"/><ellipse cx="439" cy="971" rx="7.5" ry="4.2" transform="rotate(252 439 971)"/><ellipse cx="430" cy="941" rx="7.5" ry="4.2" transform="rotate(-85 430 941)"/><ellipse cx="324" cy="981" rx="7.5" ry="4.2" transform="rotate(270 324 981)"/><ellipse cx="253" cy="972" rx="7.5" ry="4.2" transform="rotate(36 253 972)"/><ellipse cx="127" cy="1046" rx="7.5" ry="4.2" transform="rotate(260 127 1046)"/><ellipse cx="212" cy="1109" rx="7.5" ry="4.2" transform="rotate(58 212 1109)"/><ellipse cx="119" cy="1087" rx="7.5" ry="4.2" transform="rotate(-42 119 1087)"/><ellipse cx="229" cy="1146" rx="7.5" ry="4.2" transform="rotate(266 229 1146)"/><ellipse cx="512" cy="1116" rx="7.5" ry="4.2" transform="rotate(114 512 1116)"/><ellipse cx="498" cy="1165" rx="7.5" ry="4.2" transform="rotate(151 498 1165)"/><ellipse cx="448" cy="1167" rx="7.5" ry="4.2" transform="rotate(33 448 1167)"/><ellipse cx="618" cy="1007" rx="7.5" ry="4.2" transform="rotate(4 618 1007)"/><ellipse cx="706" cy="808" rx="7.5" ry="4.2" transform="rotate(165 706 808)"/><ellipse cx="665" cy="811" rx="7.5" ry="4.2" transform="rotate(98 665 811)"/><ellipse cx="895" cy="661" rx="7.5" ry="4.2" transform="rotate(97 895 661)"/><ellipse cx="876" cy="743" rx="7.5" ry="4.2" transform="rotate(157 876 743)"/><ellipse cx="988" cy="703" rx="7.5" ry="4.2" transform="rotate(123 988 703)"/><ellipse cx="997" cy="707" rx="7.5" ry="4.2" transform="rotate(-18 997 707)"/><ellipse cx="1041" cy="642" rx="7.5" ry="4.2" transform="rotate(11 1041 642)"/><ellipse cx="753" cy="1046" rx="7.5" ry="4.2" transform="rotate(147 753 1046)"/><ellipse cx="642" cy="902" rx="7.5" ry="4.2" transform="rotate(-45 642 902)"/><ellipse cx="671" cy="1116" rx="7.5" ry="4.2" transform="rotate(147 671 1116)"/><ellipse cx="672" cy="1156" rx="7.5" ry="4.2" transform="rotate(224 672 1156)"/><ellipse cx="787" cy="866" rx="7.5" ry="4.2" transform="rotate(267 787 866)"/><ellipse cx="822" cy="945" rx="7.5" ry="4.2" transform="rotate(200 822 945)"/><ellipse cx="882" cy="951" rx="7.5" ry="4.2" transform="rotate(243 882 951)"/><ellipse cx="941" cy="990" rx="7.5" ry="4.2" transform="rotate(173 941 990)"/><ellipse cx="947" cy="994" rx="7.5" ry="4.2" transform="rotate(-64 947 994)"/><ellipse cx="1036" cy="927" rx="7.5" ry="4.2" transform="rotate(27 1036 927)"/><ellipse cx="851" cy="1095" rx="7.5" ry="4.2" transform="rotate(187 851 1095)"/><ellipse cx="896" cy="1081" rx="7.5" ry="4.2" transform="rotate(146 896 1081)"/><ellipse cx="916" cy="1085" rx="7.5" ry="4.2" transform="rotate(22 916 1085)"/><ellipse cx="947" cy="1166" rx="7.5" ry="4.2" transform="rotate(248 947 1166)"/><ellipse cx="967" cy="1095" rx="7.5" ry="4.2" transform="rotate(-38 967 1095)"/><ellipse cx="842" cy="1147" rx="7.5" ry="4.2" transform="rotate(-13 842 1147)"/><ellipse cx="1060" cy="1197" rx="7.5" ry="4.2" transform="rotate(70 1060 1197)"/><ellipse cx="1140" cy="806" rx="7.5" ry="4.2" transform="rotate(247 1140 806)"/><ellipse cx="1152" cy="878" rx="7.5" ry="4.2" transform="rotate(201 1152 878)"/><ellipse cx="1125" cy="991" rx="7.5" ry="4.2" transform="rotate(-89 1125 991)"/><ellipse cx="1221" cy="1056" rx="7.5" ry="4.2" transform="rotate(143 1221 1056)"/><ellipse cx="1132" cy="1117" rx="7.5" ry="4.2" transform="rotate(-63 1132 1117)"/><ellipse cx="1219" cy="877" rx="7.5" ry="4.2" transform="rotate(-7 1219 877)"/></g>
</g>
<text transform="translate(39.0 1105.5) scale(1 1.04)" font-size="29.8" text-anchor="middle">TA</text><text transform="translate(213.5 1288.4) scale(1 1.04)" font-size="29.8" text-anchor="middle">Young</text><text transform="translate(588.4 1288.4) scale(1 1.04)" font-size="29.8" text-anchor="middle">Aged</text>
</svg>
</body></html>
